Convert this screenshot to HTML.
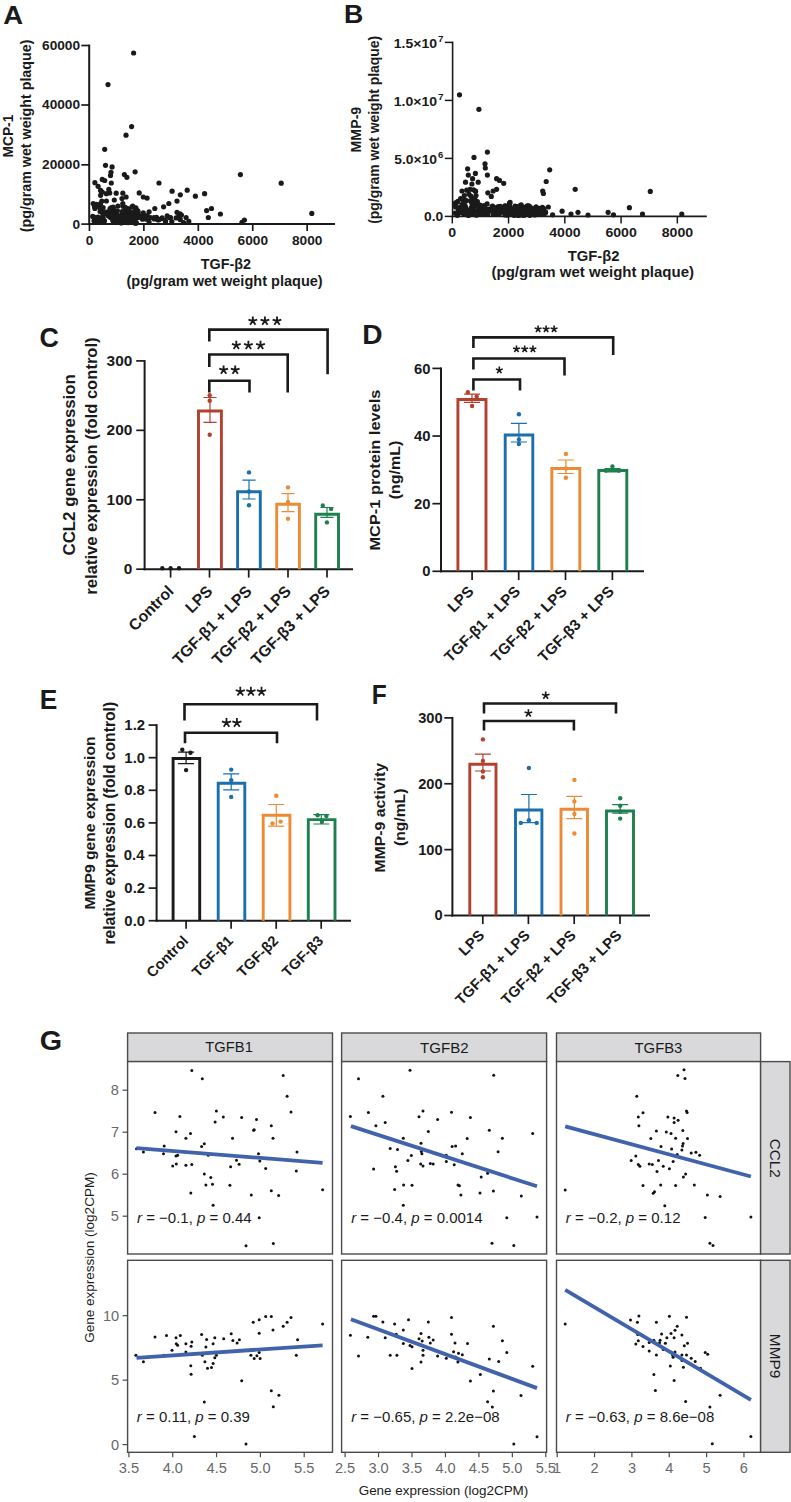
<!DOCTYPE html>
<html><head><meta charset="utf-8"><style>
html,body{margin:0;padding:0;background:#ffffff;}
svg{display:block;font-family:"Liberation Sans", sans-serif;}
</style></head><body>
<svg width="791" height="1502" viewBox="0 0 791 1502">
<rect width="791" height="1502" fill="#ffffff"/>
<text x="3.36" y="23.79" font-size="26" font-weight="bold" fill="#1a1a1a" textLength="19.83" lengthAdjust="spacingAndGlyphs">A</text>
<line x1="89.2" y1="44.6" x2="89.2" y2="225.1" stroke="#1a1a1a" stroke-width="2" stroke-linecap="butt"/>
<line x1="88.2" y1="224.1" x2="335" y2="224.1" stroke="#1a1a1a" stroke-width="2" stroke-linecap="butt"/>
<line x1="81.3" y1="45.5" x2="89.2" y2="45.5" stroke="#1a1a1a" stroke-width="1.7" stroke-linecap="butt"/>
<text x="42.02" y="49.92" font-size="12.8" font-weight="bold" fill="#1a1a1a" textLength="38.09" lengthAdjust="spacingAndGlyphs">60000</text>
<line x1="81.3" y1="105" x2="89.2" y2="105" stroke="#1a1a1a" stroke-width="1.7" stroke-linecap="butt"/>
<text x="42.02" y="109.42" font-size="12.8" font-weight="bold" fill="#1a1a1a" textLength="38.09" lengthAdjust="spacingAndGlyphs">40000</text>
<line x1="81.3" y1="164.85" x2="89.2" y2="164.85" stroke="#1a1a1a" stroke-width="1.7" stroke-linecap="butt"/>
<text x="42.02" y="169.27" font-size="12.8" font-weight="bold" fill="#1a1a1a" textLength="38.09" lengthAdjust="spacingAndGlyphs">20000</text>
<line x1="81.3" y1="224.1" x2="89.2" y2="224.1" stroke="#1a1a1a" stroke-width="1.7" stroke-linecap="butt"/>
<text x="72.50" y="228.52" font-size="12.8" font-weight="bold" fill="#1a1a1a" textLength="7.62" lengthAdjust="spacingAndGlyphs">0</text>
<line x1="89.45" y1="224.1" x2="89.45" y2="231" stroke="#1a1a1a" stroke-width="1.7" stroke-linecap="butt"/>
<text x="85.65" y="245.01" font-size="12.8" font-weight="bold" fill="#1a1a1a" textLength="7.62" lengthAdjust="spacingAndGlyphs">0</text>
<line x1="143.88" y1="224.1" x2="143.88" y2="231" stroke="#1a1a1a" stroke-width="1.7" stroke-linecap="butt"/>
<text x="128.68" y="245.01" font-size="12.8" font-weight="bold" fill="#1a1a1a" textLength="30.47" lengthAdjust="spacingAndGlyphs">2000</text>
<line x1="198.31" y1="224.1" x2="198.31" y2="231" stroke="#1a1a1a" stroke-width="1.7" stroke-linecap="butt"/>
<text x="183.24" y="245.01" font-size="12.8" font-weight="bold" fill="#1a1a1a" textLength="30.47" lengthAdjust="spacingAndGlyphs">4000</text>
<line x1="252.74" y1="224.1" x2="252.74" y2="231" stroke="#1a1a1a" stroke-width="1.7" stroke-linecap="butt"/>
<text x="237.54" y="245.01" font-size="12.8" font-weight="bold" fill="#1a1a1a" textLength="30.47" lengthAdjust="spacingAndGlyphs">6000</text>
<line x1="307.17" y1="224.1" x2="307.17" y2="231" stroke="#1a1a1a" stroke-width="1.7" stroke-linecap="butt"/>
<text x="292.00" y="245.01" font-size="12.8" font-weight="bold" fill="#1a1a1a" textLength="30.47" lengthAdjust="spacingAndGlyphs">8000</text>
<text x="200.71" y="268.50" font-size="14.5" font-weight="bold" fill="#1a1a1a" textLength="50.31" lengthAdjust="spacingAndGlyphs">TGF-β2</text>
<text x="126.52" y="285.90" font-size="14.5" font-weight="bold" fill="#1a1a1a" textLength="196.19" lengthAdjust="spacingAndGlyphs">(pg/gram wet weight plaque)</text>
<text x="12.90" y="157.55" font-size="14.8" font-weight="bold" fill="#1a1a1a" transform="rotate(-90 12.90 157.55)" textLength="42.96" lengthAdjust="spacingAndGlyphs">MCP-1</text>
<text x="30.80" y="232.16" font-size="14.5" font-weight="bold" fill="#1a1a1a" transform="rotate(-90 30.80 232.16)" textLength="192.57" lengthAdjust="spacingAndGlyphs">(pg/gram wet weight plaque)</text>
<circle cx="133.6" cy="53.0" r="2.6" fill="#1a1a1a"/>
<circle cx="108.0" cy="84.6" r="2.6" fill="#1a1a1a"/>
<circle cx="131.6" cy="126.6" r="2.6" fill="#1a1a1a"/>
<circle cx="126.0" cy="135.2" r="2.6" fill="#1a1a1a"/>
<circle cx="104.7" cy="149.3" r="2.6" fill="#1a1a1a"/>
<circle cx="105.5" cy="165.3" r="2.6" fill="#1a1a1a"/>
<circle cx="112.1" cy="166.9" r="2.6" fill="#1a1a1a"/>
<circle cx="111.0" cy="172.3" r="2.6" fill="#1a1a1a"/>
<circle cx="110.5" cy="175.6" r="2.6" fill="#1a1a1a"/>
<circle cx="124.4" cy="174.5" r="2.6" fill="#1a1a1a"/>
<circle cx="126.9" cy="177.3" r="2.6" fill="#1a1a1a"/>
<circle cx="135.1" cy="171.8" r="2.6" fill="#1a1a1a"/>
<circle cx="94.9" cy="182.7" r="2.6" fill="#1a1a1a"/>
<circle cx="102.3" cy="179.4" r="2.6" fill="#1a1a1a"/>
<circle cx="104.7" cy="180.5" r="2.6" fill="#1a1a1a"/>
<circle cx="111.3" cy="183.0" r="2.6" fill="#1a1a1a"/>
<circle cx="159.0" cy="183.0" r="2.6" fill="#1a1a1a"/>
<circle cx="98.1" cy="186.3" r="2.6" fill="#1a1a1a"/>
<circle cx="100.6" cy="190.4" r="2.6" fill="#1a1a1a"/>
<circle cx="102.3" cy="192.0" r="2.6" fill="#1a1a1a"/>
<circle cx="108.8" cy="189.3" r="2.6" fill="#1a1a1a"/>
<circle cx="109.7" cy="192.9" r="2.6" fill="#1a1a1a"/>
<circle cx="106.4" cy="193.7" r="2.6" fill="#1a1a1a"/>
<circle cx="116.2" cy="193.2" r="2.6" fill="#1a1a1a"/>
<circle cx="122.8" cy="193.2" r="2.6" fill="#1a1a1a"/>
<circle cx="100.6" cy="195.3" r="2.6" fill="#1a1a1a"/>
<circle cx="126.1" cy="197.0" r="2.6" fill="#1a1a1a"/>
<circle cx="122.0" cy="198.6" r="2.6" fill="#1a1a1a"/>
<circle cx="139.2" cy="192.9" r="2.6" fill="#1a1a1a"/>
<circle cx="143.3" cy="197.0" r="2.6" fill="#1a1a1a"/>
<circle cx="147.1" cy="198.1" r="2.6" fill="#1a1a1a"/>
<circle cx="172.1" cy="191.2" r="2.6" fill="#1a1a1a"/>
<circle cx="180.3" cy="194.8" r="2.6" fill="#1a1a1a"/>
<circle cx="187.2" cy="190.2" r="2.6" fill="#1a1a1a"/>
<circle cx="195.4" cy="196.2" r="2.6" fill="#1a1a1a"/>
<circle cx="204.6" cy="193.7" r="2.6" fill="#1a1a1a"/>
<circle cx="114.3" cy="200.0" r="2.6" fill="#1a1a1a"/>
<circle cx="106.4" cy="201.0" r="2.6" fill="#1a1a1a"/>
<circle cx="93.2" cy="203.5" r="2.6" fill="#1a1a1a"/>
<circle cx="100.6" cy="203.5" r="2.6" fill="#1a1a1a"/>
<circle cx="94.9" cy="208.5" r="2.6" fill="#1a1a1a"/>
<circle cx="177.0" cy="201.1" r="2.6" fill="#1a1a1a"/>
<circle cx="168.8" cy="203.5" r="2.6" fill="#1a1a1a"/>
<circle cx="163.6" cy="206.8" r="2.6" fill="#1a1a1a"/>
<circle cx="154.8" cy="208.5" r="2.6" fill="#1a1a1a"/>
<circle cx="149.1" cy="211.8" r="2.6" fill="#1a1a1a"/>
<circle cx="143.3" cy="212.9" r="2.6" fill="#1a1a1a"/>
<circle cx="132.7" cy="206.0" r="2.6" fill="#1a1a1a"/>
<circle cx="122.8" cy="203.5" r="2.6" fill="#1a1a1a"/>
<circle cx="117.9" cy="206.0" r="2.6" fill="#1a1a1a"/>
<circle cx="111.3" cy="207.7" r="2.6" fill="#1a1a1a"/>
<circle cx="103.1" cy="207.7" r="2.6" fill="#1a1a1a"/>
<circle cx="102.3" cy="211.8" r="2.6" fill="#1a1a1a"/>
<circle cx="206.6" cy="210.6" r="2.6" fill="#1a1a1a"/>
<circle cx="211.5" cy="208.5" r="2.6" fill="#1a1a1a"/>
<circle cx="208.3" cy="217.5" r="2.6" fill="#1a1a1a"/>
<circle cx="177.0" cy="212.3" r="2.6" fill="#1a1a1a"/>
<circle cx="180.0" cy="213.9" r="2.6" fill="#1a1a1a"/>
<circle cx="186.1" cy="217.5" r="2.6" fill="#1a1a1a"/>
<circle cx="167.2" cy="215.9" r="2.6" fill="#1a1a1a"/>
<circle cx="170.5" cy="217.5" r="2.6" fill="#1a1a1a"/>
<circle cx="154.0" cy="217.5" r="2.6" fill="#1a1a1a"/>
<circle cx="157.3" cy="219.2" r="2.6" fill="#1a1a1a"/>
<circle cx="142.5" cy="219.2" r="2.6" fill="#1a1a1a"/>
<circle cx="149.1" cy="222.1" r="2.6" fill="#1a1a1a"/>
<circle cx="183.6" cy="222.5" r="2.6" fill="#1a1a1a"/>
<circle cx="165.5" cy="221.6" r="2.6" fill="#1a1a1a"/>
<circle cx="96.5" cy="219.2" r="2.6" fill="#1a1a1a"/>
<circle cx="94.0" cy="220.8" r="2.6" fill="#1a1a1a"/>
<circle cx="240.4" cy="174.6" r="2.6" fill="#1a1a1a"/>
<circle cx="281.2" cy="183.2" r="2.6" fill="#1a1a1a"/>
<circle cx="311.8" cy="213.4" r="2.6" fill="#1a1a1a"/>
<circle cx="220.4" cy="214.0" r="2.6" fill="#1a1a1a"/>
<circle cx="244.4" cy="220.0" r="2.6" fill="#1a1a1a"/>
<circle cx="242.0" cy="222.3" r="2.6" fill="#1a1a1a"/>
<circle cx="110.5" cy="217.5" r="2.6" fill="#1a1a1a"/>
<circle cx="115.8" cy="218.3" r="2.6" fill="#1a1a1a"/>
<circle cx="126.0" cy="208.5" r="2.6" fill="#1a1a1a"/>
<circle cx="101.5" cy="221.2" r="2.6" fill="#1a1a1a"/>
<circle cx="111.4" cy="212.5" r="2.6" fill="#1a1a1a"/>
<circle cx="140.8" cy="216.4" r="2.6" fill="#1a1a1a"/>
<circle cx="134.5" cy="216.5" r="2.6" fill="#1a1a1a"/>
<circle cx="126.6" cy="210.8" r="2.6" fill="#1a1a1a"/>
<circle cx="126.4" cy="221.5" r="2.6" fill="#1a1a1a"/>
<circle cx="121.9" cy="220.0" r="2.6" fill="#1a1a1a"/>
<circle cx="127.9" cy="208.5" r="2.6" fill="#1a1a1a"/>
<circle cx="131.3" cy="218.1" r="2.6" fill="#1a1a1a"/>
<circle cx="113.1" cy="207.2" r="2.6" fill="#1a1a1a"/>
<circle cx="135.6" cy="216.5" r="2.6" fill="#1a1a1a"/>
<circle cx="129.8" cy="221.7" r="2.6" fill="#1a1a1a"/>
<circle cx="129.6" cy="222.1" r="2.6" fill="#1a1a1a"/>
<circle cx="116.8" cy="220.8" r="2.6" fill="#1a1a1a"/>
<circle cx="118.8" cy="222.3" r="2.6" fill="#1a1a1a"/>
<circle cx="136.2" cy="209.5" r="2.6" fill="#1a1a1a"/>
<circle cx="106.4" cy="212.2" r="2.6" fill="#1a1a1a"/>
<circle cx="139.6" cy="215.9" r="2.6" fill="#1a1a1a"/>
<circle cx="126.1" cy="213.8" r="2.6" fill="#1a1a1a"/>
<circle cx="121.3" cy="215.2" r="2.6" fill="#1a1a1a"/>
<circle cx="115.0" cy="218.0" r="2.6" fill="#1a1a1a"/>
<circle cx="124.4" cy="221.9" r="2.6" fill="#1a1a1a"/>
<circle cx="128.3" cy="222.2" r="2.6" fill="#1a1a1a"/>
<circle cx="135.3" cy="222.9" r="2.6" fill="#1a1a1a"/>
<circle cx="127.9" cy="211.1" r="2.6" fill="#1a1a1a"/>
<circle cx="135.4" cy="222.6" r="2.6" fill="#1a1a1a"/>
<circle cx="137.2" cy="217.8" r="2.6" fill="#1a1a1a"/>
<circle cx="129.6" cy="212.1" r="2.6" fill="#1a1a1a"/>
<circle cx="134.3" cy="217.9" r="2.6" fill="#1a1a1a"/>
<circle cx="112.4" cy="208.4" r="2.6" fill="#1a1a1a"/>
<circle cx="135.2" cy="222.9" r="2.6" fill="#1a1a1a"/>
<circle cx="104.5" cy="220.8" r="2.6" fill="#1a1a1a"/>
<circle cx="117.4" cy="210.8" r="2.6" fill="#1a1a1a"/>
<circle cx="112.8" cy="220.4" r="2.6" fill="#1a1a1a"/>
<circle cx="135.9" cy="207.8" r="2.6" fill="#1a1a1a"/>
<circle cx="125.6" cy="207.8" r="2.6" fill="#1a1a1a"/>
<circle cx="129.7" cy="214.3" r="2.6" fill="#1a1a1a"/>
<circle cx="136.2" cy="222.8" r="2.6" fill="#1a1a1a"/>
<circle cx="121.2" cy="223.0" r="2.6" fill="#1a1a1a"/>
<circle cx="113.4" cy="208.9" r="2.6" fill="#1a1a1a"/>
<circle cx="125.0" cy="207.3" r="2.6" fill="#1a1a1a"/>
<circle cx="108.9" cy="215.5" r="2.6" fill="#1a1a1a"/>
<circle cx="125.4" cy="210.9" r="2.6" fill="#1a1a1a"/>
<circle cx="102.7" cy="221.5" r="2.6" fill="#1a1a1a"/>
<circle cx="113.6" cy="222.5" r="2.6" fill="#1a1a1a"/>
<circle cx="136.9" cy="215.0" r="2.6" fill="#1a1a1a"/>
<circle cx="119.4" cy="217.2" r="2.6" fill="#1a1a1a"/>
<circle cx="126.8" cy="218.2" r="2.6" fill="#1a1a1a"/>
<circle cx="123.4" cy="218.5" r="2.6" fill="#1a1a1a"/>
<circle cx="138.6" cy="217.0" r="2.6" fill="#1a1a1a"/>
<circle cx="118.2" cy="219.8" r="2.6" fill="#1a1a1a"/>
<circle cx="110.5" cy="213.8" r="2.6" fill="#1a1a1a"/>
<circle cx="140.1" cy="217.2" r="2.6" fill="#1a1a1a"/>
<circle cx="122.9" cy="206.2" r="2.6" fill="#1a1a1a"/>
<circle cx="117.6" cy="218.0" r="2.6" fill="#1a1a1a"/>
<circle cx="101.8" cy="218.5" r="2.6" fill="#1a1a1a"/>
<circle cx="126.3" cy="208.3" r="2.6" fill="#1a1a1a"/>
<circle cx="126.1" cy="216.4" r="2.6" fill="#1a1a1a"/>
<circle cx="128.2" cy="214.6" r="2.6" fill="#1a1a1a"/>
<circle cx="129.3" cy="220.0" r="2.6" fill="#1a1a1a"/>
<circle cx="101.9" cy="208.3" r="2.6" fill="#1a1a1a"/>
<circle cx="128.0" cy="222.6" r="2.6" fill="#1a1a1a"/>
<circle cx="111.0" cy="216.2" r="2.6" fill="#1a1a1a"/>
<circle cx="124.7" cy="214.1" r="2.6" fill="#1a1a1a"/>
<circle cx="115.6" cy="214.0" r="2.6" fill="#1a1a1a"/>
<circle cx="115.8" cy="218.2" r="2.6" fill="#1a1a1a"/>
<circle cx="113.0" cy="215.0" r="2.6" fill="#1a1a1a"/>
<circle cx="131.9" cy="207.1" r="2.6" fill="#1a1a1a"/>
<circle cx="123.8" cy="220.0" r="2.6" fill="#1a1a1a"/>
<circle cx="113.4" cy="212.3" r="2.6" fill="#1a1a1a"/>
<circle cx="133.2" cy="212.6" r="2.6" fill="#1a1a1a"/>
<circle cx="108.5" cy="215.9" r="2.6" fill="#1a1a1a"/>
<circle cx="128.9" cy="209.6" r="2.6" fill="#1a1a1a"/>
<circle cx="113.9" cy="214.3" r="2.6" fill="#1a1a1a"/>
<circle cx="134.3" cy="216.0" r="2.6" fill="#1a1a1a"/>
<circle cx="135.2" cy="211.2" r="2.6" fill="#1a1a1a"/>
<circle cx="114.5" cy="218.9" r="2.6" fill="#1a1a1a"/>
<circle cx="136.4" cy="216.2" r="2.6" fill="#1a1a1a"/>
<circle cx="110.0" cy="210.1" r="2.6" fill="#1a1a1a"/>
<circle cx="122.2" cy="211.7" r="2.6" fill="#1a1a1a"/>
<circle cx="133.3" cy="221.2" r="2.6" fill="#1a1a1a"/>
<circle cx="108.3" cy="213.4" r="2.6" fill="#1a1a1a"/>
<circle cx="133.3" cy="218.8" r="2.6" fill="#1a1a1a"/>
<circle cx="133.3" cy="214.5" r="2.6" fill="#1a1a1a"/>
<circle cx="106.2" cy="213.6" r="2.6" fill="#1a1a1a"/>
<circle cx="132.8" cy="213.2" r="2.6" fill="#1a1a1a"/>
<circle cx="114.9" cy="215.6" r="2.6" fill="#1a1a1a"/>
<circle cx="117.8" cy="215.5" r="2.6" fill="#1a1a1a"/>
<circle cx="137.8" cy="210.9" r="2.6" fill="#1a1a1a"/>
<circle cx="101.2" cy="222.4" r="2.6" fill="#1a1a1a"/>
<circle cx="136.2" cy="222.9" r="2.6" fill="#1a1a1a"/>
<circle cx="118.4" cy="222.5" r="2.6" fill="#1a1a1a"/>
<circle cx="138.1" cy="212.3" r="2.6" fill="#1a1a1a"/>
<circle cx="130.8" cy="221.2" r="2.6" fill="#1a1a1a"/>
<circle cx="127.5" cy="217.1" r="2.6" fill="#1a1a1a"/>
<circle cx="112.6" cy="214.4" r="2.6" fill="#1a1a1a"/>
<circle cx="110.1" cy="208.6" r="2.6" fill="#1a1a1a"/>
<circle cx="99.3" cy="206.3" r="2.6" fill="#1a1a1a"/>
<circle cx="101.8" cy="201.0" r="2.6" fill="#1a1a1a"/>
<circle cx="102.9" cy="215.3" r="2.6" fill="#1a1a1a"/>
<circle cx="103.1" cy="219.7" r="2.6" fill="#1a1a1a"/>
<circle cx="102.8" cy="212.7" r="2.6" fill="#1a1a1a"/>
<circle cx="92.7" cy="216.4" r="2.6" fill="#1a1a1a"/>
<circle cx="94.5" cy="206.6" r="2.6" fill="#1a1a1a"/>
<circle cx="100.1" cy="211.5" r="2.6" fill="#1a1a1a"/>
<circle cx="97.3" cy="220.7" r="2.6" fill="#1a1a1a"/>
<circle cx="99.5" cy="207.5" r="2.6" fill="#1a1a1a"/>
<circle cx="95.4" cy="219.0" r="2.6" fill="#1a1a1a"/>
<circle cx="98.0" cy="217.2" r="2.6" fill="#1a1a1a"/>
<circle cx="96.5" cy="204.3" r="2.6" fill="#1a1a1a"/>
<circle cx="98.6" cy="218.0" r="2.6" fill="#1a1a1a"/>
<circle cx="94.5" cy="217.4" r="2.6" fill="#1a1a1a"/>
<circle cx="103.1" cy="217.7" r="2.6" fill="#1a1a1a"/>
<circle cx="181.4" cy="215.1" r="2.6" fill="#1a1a1a"/>
<circle cx="171.8" cy="221.5" r="2.6" fill="#1a1a1a"/>
<circle cx="143.4" cy="217.0" r="2.6" fill="#1a1a1a"/>
<circle cx="154.2" cy="219.0" r="2.6" fill="#1a1a1a"/>
<circle cx="161.7" cy="218.5" r="2.6" fill="#1a1a1a"/>
<circle cx="179.0" cy="215.0" r="2.6" fill="#1a1a1a"/>
<circle cx="143.7" cy="216.0" r="2.6" fill="#1a1a1a"/>
<circle cx="147.1" cy="215.5" r="2.6" fill="#1a1a1a"/>
<circle cx="188.8" cy="221.4" r="2.6" fill="#1a1a1a"/>
<circle cx="145.2" cy="218.8" r="2.6" fill="#1a1a1a"/>
<circle cx="156.5" cy="217.4" r="2.6" fill="#1a1a1a"/>
<circle cx="158.2" cy="219.9" r="2.6" fill="#1a1a1a"/>
<circle cx="169.7" cy="217.7" r="2.6" fill="#1a1a1a"/>
<circle cx="150.4" cy="217.5" r="2.6" fill="#1a1a1a"/>
<circle cx="147.1" cy="219.2" r="2.6" fill="#1a1a1a"/>
<circle cx="176.1" cy="217.9" r="2.6" fill="#1a1a1a"/>
<circle cx="144.9" cy="216.3" r="2.6" fill="#1a1a1a"/>
<circle cx="159.3" cy="219.5" r="2.6" fill="#1a1a1a"/>
<circle cx="179.3" cy="217.9" r="2.6" fill="#1a1a1a"/>
<circle cx="180.3" cy="219.7" r="2.6" fill="#1a1a1a"/>
<circle cx="162.1" cy="217.8" r="2.6" fill="#1a1a1a"/>
<circle cx="165.3" cy="220.3" r="2.6" fill="#1a1a1a"/>
<text x="344.11" y="22.99" font-size="26" font-weight="bold" fill="#1a1a1a" textLength="19.30" lengthAdjust="spacingAndGlyphs">B</text>
<line x1="452.6" y1="41.6" x2="452.6" y2="217.20000000000002" stroke="#1a1a1a" stroke-width="1.6" stroke-linecap="butt"/>
<line x1="451.8" y1="216.4" x2="706.8" y2="216.4" stroke="#1a1a1a" stroke-width="1.6" stroke-linecap="butt"/>
<line x1="444.8" y1="42.4" x2="452.6" y2="42.4" stroke="#1a1a1a" stroke-width="1.5" stroke-linecap="butt"/>
<text x="393.84" y="47.70" font-size="13.0" font-weight="bold" fill="#1a1a1a" textLength="43.19" lengthAdjust="spacingAndGlyphs">1.5×10</text>
<text x="438.00" y="42.38" font-size="8.6" font-weight="bold" fill="#1a1a1a" textLength="5.50" lengthAdjust="spacingAndGlyphs">7</text>
<line x1="444.8" y1="100.4" x2="452.6" y2="100.4" stroke="#1a1a1a" stroke-width="1.5" stroke-linecap="butt"/>
<text x="393.84" y="105.70" font-size="13.0" font-weight="bold" fill="#1a1a1a" textLength="43.19" lengthAdjust="spacingAndGlyphs">1.0×10</text>
<text x="438.00" y="100.38" font-size="8.6" font-weight="bold" fill="#1a1a1a" textLength="5.50" lengthAdjust="spacingAndGlyphs">7</text>
<line x1="444.8" y1="158.4" x2="452.6" y2="158.4" stroke="#1a1a1a" stroke-width="1.5" stroke-linecap="butt"/>
<text x="394.34" y="163.70" font-size="13.0" font-weight="bold" fill="#1a1a1a" textLength="42.69" lengthAdjust="spacingAndGlyphs">5.0×10</text>
<text x="438.12" y="158.27" font-size="8.6" font-weight="bold" fill="#1a1a1a" textLength="5.28" lengthAdjust="spacingAndGlyphs">6</text>
<line x1="444.8" y1="216.4" x2="452.6" y2="216.4" stroke="#1a1a1a" stroke-width="1.5" stroke-linecap="butt"/>
<text x="424.00" y="220.90" font-size="12.9" font-weight="bold" fill="#1a1a1a" textLength="19.21" lengthAdjust="spacingAndGlyphs">0.0</text>
<line x1="452.3" y1="216.4" x2="452.3" y2="223.5" stroke="#1a1a1a" stroke-width="1.5" stroke-linecap="butt"/>
<text x="448.38" y="236.50" font-size="12.5" font-weight="bold" fill="#1a1a1a" textLength="7.86" lengthAdjust="spacingAndGlyphs">0</text>
<line x1="508.56" y1="216.4" x2="508.56" y2="223.5" stroke="#1a1a1a" stroke-width="1.5" stroke-linecap="butt"/>
<text x="492.88" y="236.50" font-size="12.5" font-weight="bold" fill="#1a1a1a" textLength="31.42" lengthAdjust="spacingAndGlyphs">2000</text>
<line x1="564.82" y1="216.4" x2="564.82" y2="223.5" stroke="#1a1a1a" stroke-width="1.5" stroke-linecap="butt"/>
<text x="549.28" y="236.50" font-size="12.5" font-weight="bold" fill="#1a1a1a" textLength="31.42" lengthAdjust="spacingAndGlyphs">4000</text>
<line x1="621.08" y1="216.4" x2="621.08" y2="223.5" stroke="#1a1a1a" stroke-width="1.5" stroke-linecap="butt"/>
<text x="605.40" y="236.50" font-size="12.5" font-weight="bold" fill="#1a1a1a" textLength="31.42" lengthAdjust="spacingAndGlyphs">6000</text>
<line x1="677.34" y1="216.4" x2="677.34" y2="223.5" stroke="#1a1a1a" stroke-width="1.5" stroke-linecap="butt"/>
<text x="661.70" y="236.50" font-size="12.5" font-weight="bold" fill="#1a1a1a" textLength="31.42" lengthAdjust="spacingAndGlyphs">8000</text>
<text x="567.70" y="260.80" font-size="14.4" font-weight="bold" fill="#1a1a1a" textLength="51.73" lengthAdjust="spacingAndGlyphs">TGF-β2</text>
<text x="491.50" y="276.50" font-size="14.0" font-weight="bold" fill="#1a1a1a" textLength="202.54" lengthAdjust="spacingAndGlyphs">(pg/gram wet weight plaque)</text>
<text x="360.80" y="152.47" font-size="14.5" font-weight="bold" fill="#1a1a1a" transform="rotate(-90 360.80 152.47)" textLength="45.75" lengthAdjust="spacingAndGlyphs">MMP-9</text>
<text x="379.20" y="223.85" font-size="14.5" font-weight="bold" fill="#1a1a1a" transform="rotate(-90 379.20 223.85)" textLength="188.03" lengthAdjust="spacingAndGlyphs">(pg/gram wet weight plaque)</text>
<circle cx="459.5" cy="94.8" r="2.6" fill="#1a1a1a"/>
<circle cx="478.9" cy="109.3" r="2.6" fill="#1a1a1a"/>
<circle cx="474.0" cy="157.4" r="2.6" fill="#1a1a1a"/>
<circle cx="487.4" cy="152.1" r="2.6" fill="#1a1a1a"/>
<circle cx="485.0" cy="163.8" r="2.6" fill="#1a1a1a"/>
<circle cx="485.3" cy="168.0" r="2.6" fill="#1a1a1a"/>
<circle cx="467.6" cy="168.8" r="2.6" fill="#1a1a1a"/>
<circle cx="468.3" cy="175.1" r="2.6" fill="#1a1a1a"/>
<circle cx="475.4" cy="173.4" r="2.6" fill="#1a1a1a"/>
<circle cx="487.4" cy="175.1" r="2.6" fill="#1a1a1a"/>
<circle cx="496.6" cy="178.7" r="2.6" fill="#1a1a1a"/>
<circle cx="499.5" cy="180.4" r="2.6" fill="#1a1a1a"/>
<circle cx="503.7" cy="183.3" r="2.6" fill="#1a1a1a"/>
<circle cx="472.6" cy="178.7" r="2.6" fill="#1a1a1a"/>
<circle cx="465.5" cy="182.2" r="2.6" fill="#1a1a1a"/>
<circle cx="471.9" cy="184.0" r="2.6" fill="#1a1a1a"/>
<circle cx="478.2" cy="182.2" r="2.6" fill="#1a1a1a"/>
<circle cx="462.0" cy="191.0" r="2.6" fill="#1a1a1a"/>
<circle cx="470.0" cy="189.3" r="2.6" fill="#1a1a1a"/>
<circle cx="475.4" cy="191.0" r="2.6" fill="#1a1a1a"/>
<circle cx="487.8" cy="192.8" r="2.6" fill="#1a1a1a"/>
<circle cx="493.1" cy="191.0" r="2.6" fill="#1a1a1a"/>
<circle cx="496.6" cy="189.3" r="2.6" fill="#1a1a1a"/>
<circle cx="491.3" cy="196.4" r="2.6" fill="#1a1a1a"/>
<circle cx="546.2" cy="181.5" r="2.6" fill="#1a1a1a"/>
<circle cx="542.7" cy="191.0" r="2.6" fill="#1a1a1a"/>
<circle cx="543.4" cy="193.5" r="2.6" fill="#1a1a1a"/>
<circle cx="549.7" cy="169.8" r="2.6" fill="#1a1a1a"/>
<circle cx="575.2" cy="189.3" r="2.6" fill="#1a1a1a"/>
<circle cx="650.3" cy="191.4" r="2.6" fill="#1a1a1a"/>
<circle cx="548.3" cy="207.0" r="2.6" fill="#1a1a1a"/>
<circle cx="528.5" cy="206.0" r="2.6" fill="#1a1a1a"/>
<circle cx="515.0" cy="206.0" r="2.6" fill="#1a1a1a"/>
<circle cx="519.6" cy="207.0" r="2.6" fill="#1a1a1a"/>
<circle cx="562.1" cy="211.2" r="2.6" fill="#1a1a1a"/>
<circle cx="571.0" cy="214.0" r="2.6" fill="#1a1a1a"/>
<circle cx="578.0" cy="212.3" r="2.6" fill="#1a1a1a"/>
<circle cx="608.1" cy="212.3" r="2.6" fill="#1a1a1a"/>
<circle cx="613.5" cy="214.8" r="2.6" fill="#1a1a1a"/>
<circle cx="629.4" cy="207.7" r="2.6" fill="#1a1a1a"/>
<circle cx="642.5" cy="214.0" r="2.6" fill="#1a1a1a"/>
<circle cx="681.8" cy="214.0" r="2.6" fill="#1a1a1a"/>
<circle cx="588.0" cy="215.0" r="2.6" fill="#1a1a1a"/>
<circle cx="552.6" cy="214.8" r="2.6" fill="#1a1a1a"/>
<circle cx="494.1" cy="212.9" r="2.6" fill="#1a1a1a"/>
<circle cx="497.9" cy="207.7" r="2.6" fill="#1a1a1a"/>
<circle cx="504.8" cy="213.1" r="2.6" fill="#1a1a1a"/>
<circle cx="461.7" cy="208.6" r="2.6" fill="#1a1a1a"/>
<circle cx="494.6" cy="214.5" r="2.6" fill="#1a1a1a"/>
<circle cx="542.1" cy="211.6" r="2.6" fill="#1a1a1a"/>
<circle cx="538.5" cy="214.3" r="2.6" fill="#1a1a1a"/>
<circle cx="479.4" cy="209.9" r="2.6" fill="#1a1a1a"/>
<circle cx="466.5" cy="213.6" r="2.6" fill="#1a1a1a"/>
<circle cx="516.6" cy="214.7" r="2.6" fill="#1a1a1a"/>
<circle cx="528.7" cy="213.4" r="2.6" fill="#1a1a1a"/>
<circle cx="523.2" cy="212.4" r="2.6" fill="#1a1a1a"/>
<circle cx="464.6" cy="211.0" r="2.6" fill="#1a1a1a"/>
<circle cx="455.5" cy="202.8" r="2.6" fill="#1a1a1a"/>
<circle cx="527.0" cy="206.1" r="2.6" fill="#1a1a1a"/>
<circle cx="463.5" cy="202.2" r="2.6" fill="#1a1a1a"/>
<circle cx="536.9" cy="209.3" r="2.6" fill="#1a1a1a"/>
<circle cx="457.2" cy="213.8" r="2.6" fill="#1a1a1a"/>
<circle cx="466.3" cy="213.9" r="2.6" fill="#1a1a1a"/>
<circle cx="517.6" cy="214.4" r="2.6" fill="#1a1a1a"/>
<circle cx="543.6" cy="213.1" r="2.6" fill="#1a1a1a"/>
<circle cx="529.3" cy="206.1" r="2.6" fill="#1a1a1a"/>
<circle cx="526.4" cy="212.1" r="2.6" fill="#1a1a1a"/>
<circle cx="521.5" cy="207.1" r="2.6" fill="#1a1a1a"/>
<circle cx="524.7" cy="215.1" r="2.6" fill="#1a1a1a"/>
<circle cx="460.7" cy="207.0" r="2.6" fill="#1a1a1a"/>
<circle cx="507.4" cy="214.2" r="2.6" fill="#1a1a1a"/>
<circle cx="477.5" cy="205.2" r="2.6" fill="#1a1a1a"/>
<circle cx="478.2" cy="211.7" r="2.6" fill="#1a1a1a"/>
<circle cx="525.1" cy="211.0" r="2.6" fill="#1a1a1a"/>
<circle cx="489.2" cy="209.4" r="2.6" fill="#1a1a1a"/>
<circle cx="487.6" cy="209.6" r="2.6" fill="#1a1a1a"/>
<circle cx="462.7" cy="209.8" r="2.6" fill="#1a1a1a"/>
<circle cx="545.5" cy="212.1" r="2.6" fill="#1a1a1a"/>
<circle cx="524.5" cy="208.2" r="2.6" fill="#1a1a1a"/>
<circle cx="519.2" cy="213.8" r="2.6" fill="#1a1a1a"/>
<circle cx="517.7" cy="211.9" r="2.6" fill="#1a1a1a"/>
<circle cx="500.0" cy="212.5" r="2.6" fill="#1a1a1a"/>
<circle cx="538.5" cy="209.1" r="2.6" fill="#1a1a1a"/>
<circle cx="463.9" cy="212.9" r="2.6" fill="#1a1a1a"/>
<circle cx="540.2" cy="212.6" r="2.6" fill="#1a1a1a"/>
<circle cx="496.2" cy="213.1" r="2.6" fill="#1a1a1a"/>
<circle cx="472.3" cy="206.6" r="2.6" fill="#1a1a1a"/>
<circle cx="473.5" cy="211.2" r="2.6" fill="#1a1a1a"/>
<circle cx="484.3" cy="206.7" r="2.6" fill="#1a1a1a"/>
<circle cx="519.3" cy="215.2" r="2.6" fill="#1a1a1a"/>
<circle cx="482.5" cy="212.7" r="2.6" fill="#1a1a1a"/>
<circle cx="493.4" cy="214.3" r="2.6" fill="#1a1a1a"/>
<circle cx="509.4" cy="208.7" r="2.6" fill="#1a1a1a"/>
<circle cx="475.2" cy="200.2" r="2.6" fill="#1a1a1a"/>
<circle cx="499.6" cy="209.7" r="2.6" fill="#1a1a1a"/>
<circle cx="471.0" cy="208.1" r="2.6" fill="#1a1a1a"/>
<circle cx="484.9" cy="213.5" r="2.6" fill="#1a1a1a"/>
<circle cx="468.4" cy="215.4" r="2.6" fill="#1a1a1a"/>
<circle cx="499.6" cy="212.1" r="2.6" fill="#1a1a1a"/>
<circle cx="498.5" cy="214.2" r="2.6" fill="#1a1a1a"/>
<circle cx="531.4" cy="212.6" r="2.6" fill="#1a1a1a"/>
<circle cx="499.8" cy="213.2" r="2.6" fill="#1a1a1a"/>
<circle cx="534.7" cy="211.5" r="2.6" fill="#1a1a1a"/>
<circle cx="523.2" cy="215.3" r="2.6" fill="#1a1a1a"/>
<circle cx="498.5" cy="207.5" r="2.6" fill="#1a1a1a"/>
<circle cx="476.8" cy="212.8" r="2.6" fill="#1a1a1a"/>
<circle cx="517.8" cy="215.2" r="2.6" fill="#1a1a1a"/>
<circle cx="534.4" cy="209.9" r="2.6" fill="#1a1a1a"/>
<circle cx="472.6" cy="206.5" r="2.6" fill="#1a1a1a"/>
<circle cx="472.4" cy="212.5" r="2.6" fill="#1a1a1a"/>
<circle cx="534.8" cy="214.9" r="2.6" fill="#1a1a1a"/>
<circle cx="478.7" cy="214.3" r="2.6" fill="#1a1a1a"/>
<circle cx="484.1" cy="209.6" r="2.6" fill="#1a1a1a"/>
<circle cx="522.8" cy="206.8" r="2.6" fill="#1a1a1a"/>
<circle cx="463.6" cy="213.8" r="2.6" fill="#1a1a1a"/>
<circle cx="482.1" cy="208.6" r="2.6" fill="#1a1a1a"/>
<circle cx="509.0" cy="213.0" r="2.6" fill="#1a1a1a"/>
<circle cx="455.6" cy="206.9" r="2.6" fill="#1a1a1a"/>
<circle cx="495.6" cy="210.8" r="2.6" fill="#1a1a1a"/>
<circle cx="474.5" cy="211.2" r="2.6" fill="#1a1a1a"/>
<circle cx="543.8" cy="211.8" r="2.6" fill="#1a1a1a"/>
<circle cx="505.6" cy="206.1" r="2.6" fill="#1a1a1a"/>
<circle cx="480.6" cy="212.3" r="2.6" fill="#1a1a1a"/>
<circle cx="465.5" cy="214.4" r="2.6" fill="#1a1a1a"/>
<circle cx="539.5" cy="208.4" r="2.6" fill="#1a1a1a"/>
<circle cx="542.5" cy="211.6" r="2.6" fill="#1a1a1a"/>
<circle cx="526.8" cy="214.0" r="2.6" fill="#1a1a1a"/>
<circle cx="482.5" cy="212.4" r="2.6" fill="#1a1a1a"/>
<circle cx="515.8" cy="214.2" r="2.6" fill="#1a1a1a"/>
<circle cx="479.7" cy="213.2" r="2.6" fill="#1a1a1a"/>
<circle cx="544.4" cy="213.7" r="2.6" fill="#1a1a1a"/>
<circle cx="504.9" cy="205.9" r="2.6" fill="#1a1a1a"/>
<circle cx="500.9" cy="209.4" r="2.6" fill="#1a1a1a"/>
<circle cx="521.8" cy="213.3" r="2.6" fill="#1a1a1a"/>
<circle cx="507.7" cy="207.4" r="2.6" fill="#1a1a1a"/>
<circle cx="515.0" cy="212.8" r="2.6" fill="#1a1a1a"/>
<circle cx="471.7" cy="214.5" r="2.6" fill="#1a1a1a"/>
<circle cx="515.9" cy="206.9" r="2.6" fill="#1a1a1a"/>
<circle cx="541.7" cy="209.2" r="2.6" fill="#1a1a1a"/>
<circle cx="485.8" cy="213.0" r="2.6" fill="#1a1a1a"/>
<circle cx="510.6" cy="212.0" r="2.6" fill="#1a1a1a"/>
<circle cx="515.2" cy="211.2" r="2.6" fill="#1a1a1a"/>
<circle cx="484.1" cy="205.6" r="2.6" fill="#1a1a1a"/>
<circle cx="461.4" cy="212.5" r="2.6" fill="#1a1a1a"/>
<circle cx="525.2" cy="212.3" r="2.6" fill="#1a1a1a"/>
<circle cx="523.8" cy="210.6" r="2.6" fill="#1a1a1a"/>
<circle cx="479.7" cy="208.8" r="2.6" fill="#1a1a1a"/>
<circle cx="536.1" cy="206.9" r="2.6" fill="#1a1a1a"/>
<circle cx="501.9" cy="208.0" r="2.6" fill="#1a1a1a"/>
<circle cx="526.5" cy="210.7" r="2.6" fill="#1a1a1a"/>
<circle cx="486.0" cy="209.4" r="2.6" fill="#1a1a1a"/>
<circle cx="505.4" cy="213.7" r="2.6" fill="#1a1a1a"/>
<circle cx="487.8" cy="214.2" r="2.6" fill="#1a1a1a"/>
<circle cx="465.4" cy="206.3" r="2.6" fill="#1a1a1a"/>
<circle cx="464.3" cy="202.6" r="2.6" fill="#1a1a1a"/>
<circle cx="527.4" cy="213.8" r="2.6" fill="#1a1a1a"/>
<circle cx="472.2" cy="205.1" r="2.6" fill="#1a1a1a"/>
<circle cx="493.7" cy="213.3" r="2.6" fill="#1a1a1a"/>
<circle cx="530.9" cy="214.0" r="2.6" fill="#1a1a1a"/>
<circle cx="510.0" cy="206.9" r="2.6" fill="#1a1a1a"/>
<circle cx="492.1" cy="206.5" r="2.6" fill="#1a1a1a"/>
<circle cx="504.1" cy="211.9" r="2.6" fill="#1a1a1a"/>
<circle cx="473.8" cy="206.4" r="2.6" fill="#1a1a1a"/>
<circle cx="527.7" cy="205.8" r="2.6" fill="#1a1a1a"/>
<circle cx="529.7" cy="214.9" r="2.6" fill="#1a1a1a"/>
<circle cx="543.3" cy="211.7" r="2.6" fill="#1a1a1a"/>
<circle cx="506.4" cy="212.1" r="2.6" fill="#1a1a1a"/>
<circle cx="513.9" cy="215.3" r="2.6" fill="#1a1a1a"/>
<circle cx="518.9" cy="209.7" r="2.6" fill="#1a1a1a"/>
<circle cx="535.0" cy="212.2" r="2.6" fill="#1a1a1a"/>
<circle cx="510.9" cy="213.5" r="2.6" fill="#1a1a1a"/>
<circle cx="455.2" cy="213.0" r="2.6" fill="#1a1a1a"/>
<circle cx="516.6" cy="211.6" r="2.6" fill="#1a1a1a"/>
<circle cx="503.7" cy="210.8" r="2.6" fill="#1a1a1a"/>
<circle cx="473.0" cy="210.5" r="2.6" fill="#1a1a1a"/>
<circle cx="458.4" cy="209.6" r="2.6" fill="#1a1a1a"/>
<circle cx="515.1" cy="211.1" r="2.6" fill="#1a1a1a"/>
<circle cx="507.6" cy="215.2" r="2.6" fill="#1a1a1a"/>
<circle cx="538.0" cy="208.8" r="2.6" fill="#1a1a1a"/>
<circle cx="528.7" cy="213.0" r="2.6" fill="#1a1a1a"/>
<circle cx="459.7" cy="207.5" r="2.6" fill="#1a1a1a"/>
<circle cx="476.7" cy="202.6" r="2.6" fill="#1a1a1a"/>
<circle cx="505.1" cy="215.0" r="2.6" fill="#1a1a1a"/>
<circle cx="485.0" cy="214.4" r="2.6" fill="#1a1a1a"/>
<circle cx="519.6" cy="207.4" r="2.6" fill="#1a1a1a"/>
<circle cx="534.8" cy="213.0" r="2.6" fill="#1a1a1a"/>
<circle cx="541.2" cy="213.9" r="2.6" fill="#1a1a1a"/>
<circle cx="523.8" cy="210.4" r="2.6" fill="#1a1a1a"/>
<circle cx="530.0" cy="215.1" r="2.6" fill="#1a1a1a"/>
<circle cx="535.1" cy="211.8" r="2.6" fill="#1a1a1a"/>
<circle cx="525.4" cy="211.8" r="2.6" fill="#1a1a1a"/>
<circle cx="465.1" cy="200.2" r="2.6" fill="#1a1a1a"/>
<circle cx="462.2" cy="204.7" r="2.6" fill="#1a1a1a"/>
<circle cx="470.0" cy="210.0" r="2.6" fill="#1a1a1a"/>
<circle cx="520.0" cy="212.1" r="2.6" fill="#1a1a1a"/>
<circle cx="494.3" cy="212.4" r="2.6" fill="#1a1a1a"/>
<circle cx="483.3" cy="210.1" r="2.6" fill="#1a1a1a"/>
<circle cx="525.4" cy="211.1" r="2.6" fill="#1a1a1a"/>
<circle cx="471.8" cy="214.5" r="2.6" fill="#1a1a1a"/>
<circle cx="521.9" cy="210.6" r="2.6" fill="#1a1a1a"/>
<circle cx="489.5" cy="211.0" r="2.6" fill="#1a1a1a"/>
<circle cx="510.5" cy="208.2" r="2.6" fill="#1a1a1a"/>
<circle cx="455.3" cy="204.4" r="2.6" fill="#1a1a1a"/>
<circle cx="527.8" cy="208.2" r="2.6" fill="#1a1a1a"/>
<circle cx="497.8" cy="206.9" r="2.6" fill="#1a1a1a"/>
<circle cx="474.5" cy="204.8" r="2.6" fill="#1a1a1a"/>
<circle cx="492.5" cy="206.1" r="2.6" fill="#1a1a1a"/>
<circle cx="457.6" cy="202.0" r="2.6" fill="#1a1a1a"/>
<circle cx="470.6" cy="209.9" r="2.6" fill="#1a1a1a"/>
<circle cx="460.6" cy="198.6" r="2.6" fill="#1a1a1a"/>
<circle cx="496.7" cy="209.9" r="2.6" fill="#1a1a1a"/>
<circle cx="520.4" cy="205.7" r="2.6" fill="#1a1a1a"/>
<circle cx="492.5" cy="209.6" r="2.6" fill="#1a1a1a"/>
<circle cx="457.5" cy="215.1" r="2.6" fill="#1a1a1a"/>
<circle cx="475.4" cy="203.0" r="2.6" fill="#1a1a1a"/>
<circle cx="499.1" cy="206.5" r="2.6" fill="#1a1a1a"/>
<circle cx="512.9" cy="209.9" r="2.6" fill="#1a1a1a"/>
<circle cx="466.5" cy="200.7" r="2.6" fill="#1a1a1a"/>
<circle cx="522.7" cy="209.6" r="2.6" fill="#1a1a1a"/>
<circle cx="528.3" cy="211.8" r="2.6" fill="#1a1a1a"/>
<circle cx="541.8" cy="210.9" r="2.6" fill="#1a1a1a"/>
<circle cx="478.2" cy="206.9" r="2.6" fill="#1a1a1a"/>
<circle cx="530.8" cy="213.1" r="2.6" fill="#1a1a1a"/>
<circle cx="487.1" cy="203.9" r="2.6" fill="#1a1a1a"/>
<circle cx="518.5" cy="215.3" r="2.6" fill="#1a1a1a"/>
<circle cx="510.1" cy="202.4" r="2.6" fill="#1a1a1a"/>
<circle cx="457.8" cy="201.4" r="2.6" fill="#1a1a1a"/>
<circle cx="470.8" cy="200.5" r="2.6" fill="#1a1a1a"/>
<circle cx="460.0" cy="211.7" r="2.6" fill="#1a1a1a"/>
<circle cx="538.7" cy="209.7" r="2.6" fill="#1a1a1a"/>
<circle cx="545.6" cy="212.5" r="2.6" fill="#1a1a1a"/>
<circle cx="529.7" cy="215.0" r="2.6" fill="#1a1a1a"/>
<circle cx="542.4" cy="207.3" r="2.6" fill="#1a1a1a"/>
<circle cx="483.3" cy="211.7" r="2.6" fill="#1a1a1a"/>
<circle cx="543.0" cy="208.5" r="2.6" fill="#1a1a1a"/>
<circle cx="482.3" cy="214.2" r="2.6" fill="#1a1a1a"/>
<circle cx="465.7" cy="208.3" r="2.6" fill="#1a1a1a"/>
<circle cx="486.1" cy="212.6" r="2.6" fill="#1a1a1a"/>
<circle cx="541.4" cy="209.6" r="2.6" fill="#1a1a1a"/>
<circle cx="523.8" cy="213.7" r="2.6" fill="#1a1a1a"/>
<circle cx="532.7" cy="212.6" r="2.6" fill="#1a1a1a"/>
<circle cx="540.9" cy="211.4" r="2.6" fill="#1a1a1a"/>
<circle cx="493.6" cy="207.2" r="2.6" fill="#1a1a1a"/>
<circle cx="527.5" cy="211.9" r="2.6" fill="#1a1a1a"/>
<circle cx="480.1" cy="205.2" r="2.6" fill="#1a1a1a"/>
<circle cx="522.0" cy="212.7" r="2.6" fill="#1a1a1a"/>
<circle cx="521.1" cy="210.7" r="2.6" fill="#1a1a1a"/>
<circle cx="500.3" cy="206.3" r="2.6" fill="#1a1a1a"/>
<circle cx="521.1" cy="204.8" r="2.6" fill="#1a1a1a"/>
<circle cx="498.4" cy="213.5" r="2.6" fill="#1a1a1a"/>
<circle cx="518.0" cy="206.6" r="2.6" fill="#1a1a1a"/>
<circle cx="477.1" cy="214.0" r="2.6" fill="#1a1a1a"/>
<circle cx="514.7" cy="214.7" r="2.6" fill="#1a1a1a"/>
<circle cx="536.1" cy="212.0" r="2.6" fill="#1a1a1a"/>
<circle cx="538.4" cy="214.0" r="2.6" fill="#1a1a1a"/>
<circle cx="486.0" cy="208.9" r="2.6" fill="#1a1a1a"/>
<circle cx="461.7" cy="208.3" r="2.6" fill="#1a1a1a"/>
<circle cx="543.9" cy="208.9" r="2.6" fill="#1a1a1a"/>
<circle cx="507.9" cy="206.0" r="2.6" fill="#1a1a1a"/>
<circle cx="462.5" cy="211.7" r="2.6" fill="#1a1a1a"/>
<circle cx="477.4" cy="201.6" r="2.6" fill="#1a1a1a"/>
<circle cx="469.2" cy="211.8" r="2.6" fill="#1a1a1a"/>
<circle cx="509.5" cy="203.0" r="2.6" fill="#1a1a1a"/>
<circle cx="476.4" cy="215.2" r="2.6" fill="#1a1a1a"/>
<circle cx="475.5" cy="211.0" r="2.6" fill="#1a1a1a"/>
<circle cx="494.0" cy="213.7" r="2.6" fill="#1a1a1a"/>
<circle cx="511.2" cy="214.0" r="2.6" fill="#1a1a1a"/>
<circle cx="504.8" cy="207.3" r="2.6" fill="#1a1a1a"/>
<circle cx="471.5" cy="202.2" r="2.6" fill="#1a1a1a"/>
<circle cx="531.8" cy="208.0" r="2.6" fill="#1a1a1a"/>
<circle cx="457.2" cy="215.2" r="2.6" fill="#1a1a1a"/>
<circle cx="473.5" cy="214.5" r="2.6" fill="#1a1a1a"/>
<circle cx="463.0" cy="209.3" r="2.6" fill="#1a1a1a"/>
<circle cx="475.7" cy="213.9" r="2.6" fill="#1a1a1a"/>
<circle cx="470.8" cy="196.1" r="2.6" fill="#1a1a1a"/>
<circle cx="474.3" cy="198.6" r="2.6" fill="#1a1a1a"/>
<circle cx="464.3" cy="195.6" r="2.6" fill="#1a1a1a"/>
<circle cx="466.7" cy="190.2" r="2.6" fill="#1a1a1a"/>
<circle cx="476.0" cy="195.5" r="2.6" fill="#1a1a1a"/>
<circle cx="475.6" cy="191.3" r="2.6" fill="#1a1a1a"/>
<circle cx="468.9" cy="194.1" r="2.6" fill="#1a1a1a"/>
<circle cx="473.5" cy="189.8" r="2.6" fill="#1a1a1a"/>
<text x="39.38" y="347.20" font-size="27.5" font-weight="bold" fill="#1a1a1a" textLength="19.41" lengthAdjust="spacingAndGlyphs">C</text>
<line x1="144.6" y1="360.1" x2="144.6" y2="570.2" stroke="#1a1a1a" stroke-width="2" stroke-linecap="butt"/>
<line x1="143.6" y1="569.2" x2="353" y2="569.2" stroke="#1a1a1a" stroke-width="2" stroke-linecap="butt"/>
<line x1="136.2" y1="360.91" x2="144.6" y2="360.91" stroke="#1a1a1a" stroke-width="1.7" stroke-linecap="butt"/>
<text x="106.62" y="365.74" font-size="14.0" font-weight="bold" fill="#1a1a1a" textLength="25.70" lengthAdjust="spacingAndGlyphs">300</text>
<line x1="136.2" y1="430.34000000000003" x2="144.6" y2="430.34000000000003" stroke="#1a1a1a" stroke-width="1.7" stroke-linecap="butt"/>
<text x="106.62" y="435.17" font-size="14.0" font-weight="bold" fill="#1a1a1a" textLength="25.70" lengthAdjust="spacingAndGlyphs">200</text>
<line x1="136.2" y1="499.77000000000004" x2="144.6" y2="499.77000000000004" stroke="#1a1a1a" stroke-width="1.7" stroke-linecap="butt"/>
<text x="106.62" y="504.60" font-size="14.0" font-weight="bold" fill="#1a1a1a" textLength="25.70" lengthAdjust="spacingAndGlyphs">100</text>
<line x1="136.2" y1="569.2" x2="144.6" y2="569.2" stroke="#1a1a1a" stroke-width="1.7" stroke-linecap="butt"/>
<text x="123.72" y="574.03" font-size="14.0" font-weight="bold" fill="#1a1a1a" textLength="8.57" lengthAdjust="spacingAndGlyphs">0</text>
<line x1="170.6" y1="569.2" x2="170.6" y2="577.6" stroke="#1a1a1a" stroke-width="1.7" stroke-linecap="butt"/>
<line x1="209.5" y1="569.2" x2="209.5" y2="577.6" stroke="#1a1a1a" stroke-width="1.7" stroke-linecap="butt"/>
<line x1="248.7" y1="569.2" x2="248.7" y2="577.6" stroke="#1a1a1a" stroke-width="1.7" stroke-linecap="butt"/>
<line x1="288" y1="569.2" x2="288" y2="577.6" stroke="#1a1a1a" stroke-width="1.7" stroke-linecap="butt"/>
<line x1="327" y1="569.2" x2="327" y2="577.6" stroke="#1a1a1a" stroke-width="1.7" stroke-linecap="butt"/>
<text x="174.6" y="592.2" font-size="15.8" font-weight="bold" text-anchor="end" fill="#1a1a1a" transform="rotate(-45 174.6 592.2)">Control</text>
<text x="213.5" y="592.2" font-size="15.8" font-weight="bold" text-anchor="end" fill="#1a1a1a" transform="rotate(-45 213.5 592.2)">LPS</text>
<text x="252.7" y="592.2" font-size="15.8" font-weight="bold" text-anchor="end" fill="#1a1a1a" transform="rotate(-45 252.7 592.2)">TGF-β1 + LPS</text>
<text x="292.0" y="592.2" font-size="15.8" font-weight="bold" text-anchor="end" fill="#1a1a1a" transform="rotate(-45 292.0 592.2)">TGF-β2 + LPS</text>
<text x="331.0" y="592.2" font-size="15.8" font-weight="bold" text-anchor="end" fill="#1a1a1a" transform="rotate(-45 331.0 592.2)">TGF-β3 + LPS</text>
<text x="75.50" y="555.42" font-size="16.2" font-weight="bold" fill="#1a1a1a" transform="rotate(-90 75.50 555.42)" textLength="181.21" lengthAdjust="spacingAndGlyphs">CCL2 gene expression</text>
<text x="96.70" y="594.63" font-size="16.5" font-weight="bold" fill="#1a1a1a" transform="rotate(-90 96.70 594.63)" textLength="257.29" lengthAdjust="spacingAndGlyphs">relative expression (fold control)</text>
<circle cx="162.3" cy="568.3" r="2.2" fill="#1a1a1a"/>
<circle cx="170.6" cy="568.3" r="2.2" fill="#1a1a1a"/>
<circle cx="179.0" cy="568.3" r="2.2" fill="#1a1a1a"/>
<path d="M198.5,569.2L198.5,411L221.4,411L221.4,569.2" stroke="#b2412f" stroke-width="2.9" fill="none" stroke-linejoin="miter"/>
<path d="M237.6,569.2L237.6,491.7L260.3,491.7L260.3,569.2" stroke="#1b6fad" stroke-width="2.9" fill="none" stroke-linejoin="miter"/>
<path d="M276.7,569.2L276.7,504.2L299.4,504.2L299.4,569.2" stroke="#ec8a35" stroke-width="2.9" fill="none" stroke-linejoin="miter"/>
<path d="M315.7,569.2L315.7,514.3L338.5,514.3L338.5,569.2" stroke="#1f7f4f" stroke-width="2.9" fill="none" stroke-linejoin="miter"/>
<path d="M210,397.5L210,422.3M203.4,397.5L216.6,397.5M203.4,422.3L216.6,422.3" stroke="#b2412f" stroke-width="1.2" fill="none"/>
<path d="M249,480.1L249,499M242.4,480.1L255.6,480.1M242.4,499L255.6,499" stroke="#1b6fad" stroke-width="1.2" fill="none"/>
<path d="M288,493.6L288,511.6M281.4,493.6L294.6,493.6M281.4,511.6L294.6,511.6" stroke="#ec8a35" stroke-width="1.2" fill="none"/>
<path d="M327,507.5L327,517.4M320.4,507.5L333.6,507.5M320.4,517.4L333.6,517.4" stroke="#1f7f4f" stroke-width="1.2" fill="none"/>
<circle cx="209.7" cy="395.3" r="2.2" fill="#b2412f"/>
<circle cx="209.7" cy="400.7" r="2.2" fill="#b2412f"/>
<circle cx="209.7" cy="434.8" r="2.2" fill="#b2412f"/>
<circle cx="249.0" cy="472.4" r="2.2" fill="#1b6fad"/>
<circle cx="249.0" cy="505.2" r="2.2" fill="#1b6fad"/>
<circle cx="249.0" cy="491.5" r="2.2" fill="#1b6fad"/>
<circle cx="288.0" cy="487.4" r="2.2" fill="#ec8a35"/>
<circle cx="288.0" cy="502.0" r="2.2" fill="#ec8a35"/>
<circle cx="288.0" cy="518.7" r="2.2" fill="#ec8a35"/>
<circle cx="322.8" cy="505.4" r="2.2" fill="#1f7f4f"/>
<circle cx="331.1" cy="508.9" r="2.2" fill="#1f7f4f"/>
<circle cx="326.9" cy="522.4" r="2.2" fill="#1f7f4f"/>
<path d="M209.3,392.6L209.3,380.8L249.5,380.8L249.5,392.6" stroke="#1a1a1a" stroke-width="2.6" fill="none" stroke-linejoin="miter"/>
<path d="M209.3,366.9L209.3,354.5L287.7,354.5L287.7,392.6" stroke="#1a1a1a" stroke-width="2.6" fill="none" stroke-linejoin="miter"/>
<path d="M209.3,341.6L209.3,329.6L327.6,329.6L327.6,374.2" stroke="#1a1a1a" stroke-width="2.6" fill="none" stroke-linejoin="miter"/>
<path d="M223.60,370.00L223.60,365.40M223.60,370.00L227.97,368.58M223.60,370.00L219.23,368.58M223.60,370.00L220.90,373.72M223.60,370.00L226.30,373.72" stroke="#1a1a1a" stroke-width="1.85" fill="none" stroke-linecap="butt"/>
<path d="M235.20,370.00L235.20,365.40M235.20,370.00L239.57,368.58M235.20,370.00L230.83,368.58M235.20,370.00L232.50,373.72M235.20,370.00L237.90,373.72" stroke="#1a1a1a" stroke-width="1.85" fill="none" stroke-linecap="butt"/>
<path d="M236.30,345.30L236.30,340.70M236.30,345.30L240.67,343.88M236.30,345.30L231.93,343.88M236.30,345.30L233.60,349.02M236.30,345.30L239.00,349.02" stroke="#1a1a1a" stroke-width="1.85" fill="none" stroke-linecap="butt"/>
<path d="M248.40,345.30L248.40,340.70M248.40,345.30L252.77,343.88M248.40,345.30L244.03,343.88M248.40,345.30L245.70,349.02M248.40,345.30L251.10,349.02" stroke="#1a1a1a" stroke-width="1.85" fill="none" stroke-linecap="butt"/>
<path d="M260.50,345.30L260.50,340.70M260.50,345.30L264.87,343.88M260.50,345.30L256.13,343.88M260.50,345.30L257.80,349.02M260.50,345.30L263.20,349.02" stroke="#1a1a1a" stroke-width="1.85" fill="none" stroke-linecap="butt"/>
<path d="M252.80,321.00L252.80,316.40M252.80,321.00L257.17,319.58M252.80,321.00L248.43,319.58M252.80,321.00L250.10,324.72M252.80,321.00L255.50,324.72" stroke="#1a1a1a" stroke-width="1.85" fill="none" stroke-linecap="butt"/>
<path d="M264.90,321.00L264.90,316.40M264.90,321.00L269.27,319.58M264.90,321.00L260.53,319.58M264.90,321.00L262.20,324.72M264.90,321.00L267.60,324.72" stroke="#1a1a1a" stroke-width="1.85" fill="none" stroke-linecap="butt"/>
<path d="M277.00,321.00L277.00,316.40M277.00,321.00L281.37,319.58M277.00,321.00L272.63,319.58M277.00,321.00L274.30,324.72M277.00,321.00L279.70,324.72" stroke="#1a1a1a" stroke-width="1.85" fill="none" stroke-linecap="butt"/>
<text x="362.32" y="344.33" font-size="27.5" font-weight="bold" fill="#1a1a1a" textLength="20.32" lengthAdjust="spacingAndGlyphs">D</text>
<line x1="441" y1="367.4" x2="441" y2="572.3" stroke="#1a1a1a" stroke-width="2" stroke-linecap="butt"/>
<line x1="440" y1="571.3" x2="644" y2="571.3" stroke="#1a1a1a" stroke-width="2" stroke-linecap="butt"/>
<line x1="432.4" y1="368.40999999999997" x2="441" y2="368.40999999999997" stroke="#1a1a1a" stroke-width="1.7" stroke-linecap="butt"/>
<text x="414.11" y="373.52" font-size="14.8" font-weight="bold" fill="#1a1a1a" textLength="16.46" lengthAdjust="spacingAndGlyphs">60</text>
<line x1="432.4" y1="436.03999999999996" x2="441" y2="436.03999999999996" stroke="#1a1a1a" stroke-width="1.7" stroke-linecap="butt"/>
<text x="414.11" y="441.15" font-size="14.8" font-weight="bold" fill="#1a1a1a" textLength="16.46" lengthAdjust="spacingAndGlyphs">40</text>
<line x1="432.4" y1="503.66999999999996" x2="441" y2="503.66999999999996" stroke="#1a1a1a" stroke-width="1.7" stroke-linecap="butt"/>
<text x="414.11" y="508.78" font-size="14.8" font-weight="bold" fill="#1a1a1a" textLength="16.46" lengthAdjust="spacingAndGlyphs">20</text>
<line x1="432.4" y1="571.3" x2="441" y2="571.3" stroke="#1a1a1a" stroke-width="1.7" stroke-linecap="butt"/>
<text x="422.33" y="576.41" font-size="14.8" font-weight="bold" fill="#1a1a1a" textLength="8.23" lengthAdjust="spacingAndGlyphs">0</text>
<line x1="472.1" y1="571.3" x2="472.1" y2="580.1" stroke="#1a1a1a" stroke-width="1.7" stroke-linecap="butt"/>
<line x1="518.7" y1="571.3" x2="518.7" y2="580.1" stroke="#1a1a1a" stroke-width="1.7" stroke-linecap="butt"/>
<line x1="565.5" y1="571.3" x2="565.5" y2="580.1" stroke="#1a1a1a" stroke-width="1.7" stroke-linecap="butt"/>
<line x1="612.4" y1="571.3" x2="612.4" y2="580.1" stroke="#1a1a1a" stroke-width="1.7" stroke-linecap="butt"/>
<text x="474.6" y="592.3" font-size="15.2" font-weight="bold" text-anchor="end" fill="#1a1a1a" transform="rotate(-45 474.6 592.3)">LPS</text>
<text x="521.2" y="592.3" font-size="15.2" font-weight="bold" text-anchor="end" fill="#1a1a1a" transform="rotate(-45 521.2 592.3)">TGF-β1 + LPS</text>
<text x="568.0" y="592.3" font-size="15.2" font-weight="bold" text-anchor="end" fill="#1a1a1a" transform="rotate(-45 568.0 592.3)">TGF-β2 + LPS</text>
<text x="614.9" y="592.3" font-size="15.2" font-weight="bold" text-anchor="end" fill="#1a1a1a" transform="rotate(-45 614.9 592.3)">TGF-β3 + LPS</text>
<text x="380.10" y="550.51" font-size="15.2" font-weight="bold" fill="#1a1a1a" transform="rotate(-90 380.10 550.51)" textLength="160.84" lengthAdjust="spacingAndGlyphs">MCP-1 protein levels</text>
<text x="400.40" y="499.35" font-size="15.2" font-weight="bold" fill="#1a1a1a" transform="rotate(-90 400.40 499.35)" textLength="58.83" lengthAdjust="spacingAndGlyphs">(ng/mL)</text>
<path d="M457.9,571.3L457.9,399.5L486,399.5L486,571.3" stroke="#b2412f" stroke-width="2.9" fill="none" stroke-linejoin="miter"/>
<path d="M505.2,571.3L505.2,435L532.8,435L532.8,571.3" stroke="#1b6fad" stroke-width="2.9" fill="none" stroke-linejoin="miter"/>
<path d="M551.8,571.3L551.8,468.5L579.8,468.5L579.8,571.3" stroke="#ec8a35" stroke-width="2.9" fill="none" stroke-linejoin="miter"/>
<path d="M598.8,571.3L598.8,470.5L626.8,470.5L626.8,571.3" stroke="#1f7f4f" stroke-width="2.9" fill="none" stroke-linejoin="miter"/>
<path d="M472,394.2L472,402.3M464,394.2L480,394.2M464,402.3L480,402.3" stroke="#b2412f" stroke-width="1.2" fill="none"/>
<path d="M518.9,423.3L518.9,442M510.9,423.3L526.9,423.3M510.9,442L526.9,442" stroke="#1b6fad" stroke-width="1.2" fill="none"/>
<path d="M565.9,460L565.9,473.5M557.9,460L573.9,460M557.9,473.5L573.9,473.5" stroke="#ec8a35" stroke-width="1.2" fill="none"/>
<path d="M612.5,468.6L612.5,471.8M604.5,468.6L620.5,468.6M604.5,471.8L620.5,471.8" stroke="#1f7f4f" stroke-width="1.2" fill="none"/>
<circle cx="467.8" cy="392.2" r="2.2" fill="#b2412f"/>
<circle cx="476.7" cy="396.5" r="2.2" fill="#b2412f"/>
<circle cx="472.1" cy="406.0" r="2.2" fill="#b2412f"/>
<circle cx="518.9" cy="414.2" r="2.2" fill="#1b6fad"/>
<circle cx="518.9" cy="439.5" r="2.2" fill="#1b6fad"/>
<circle cx="518.9" cy="444.0" r="2.2" fill="#1b6fad"/>
<circle cx="565.9" cy="453.9" r="2.2" fill="#ec8a35"/>
<circle cx="565.9" cy="468.5" r="2.2" fill="#ec8a35"/>
<circle cx="565.9" cy="477.7" r="2.2" fill="#ec8a35"/>
<circle cx="612.4" cy="466.5" r="2.2" fill="#1f7f4f"/>
<circle cx="606.0" cy="470.5" r="2.2" fill="#1f7f4f"/>
<circle cx="619.0" cy="470.5" r="2.2" fill="#1f7f4f"/>
<path d="M473.4,390.4L473.4,379.5L520,379.5L520,390.4" stroke="#1a1a1a" stroke-width="2.6" fill="none" stroke-linejoin="miter"/>
<path d="M473.4,369.4L473.4,358.5L564.5,358.5L564.5,375.5" stroke="#1a1a1a" stroke-width="2.6" fill="none" stroke-linejoin="miter"/>
<path d="M473.4,347.9L473.4,337.4L613.2,337.4L613.2,355" stroke="#1a1a1a" stroke-width="2.6" fill="none" stroke-linejoin="miter"/>
<path d="M499.30,370.20L499.30,366.60M499.30,370.20L502.72,369.09M499.30,370.20L495.88,369.09M499.30,370.20L497.18,373.11M499.30,370.20L501.42,373.11" stroke="#1a1a1a" stroke-width="1.6" fill="none" stroke-linecap="butt"/>
<path d="M516.50,349.00L516.50,345.40M516.50,349.00L519.92,347.89M516.50,349.00L513.08,347.89M516.50,349.00L514.38,351.91M516.50,349.00L518.62,351.91" stroke="#1a1a1a" stroke-width="1.6" fill="none" stroke-linecap="butt"/>
<path d="M524.70,349.00L524.70,345.40M524.70,349.00L528.12,347.89M524.70,349.00L521.28,347.89M524.70,349.00L522.58,351.91M524.70,349.00L526.82,351.91" stroke="#1a1a1a" stroke-width="1.6" fill="none" stroke-linecap="butt"/>
<path d="M532.90,349.00L532.90,345.40M532.90,349.00L536.32,347.89M532.90,349.00L529.48,347.89M532.90,349.00L530.78,351.91M532.90,349.00L535.02,351.91" stroke="#1a1a1a" stroke-width="1.6" fill="none" stroke-linecap="butt"/>
<path d="M538.10,329.00L538.10,325.40M538.10,329.00L541.52,327.89M538.10,329.00L534.68,327.89M538.10,329.00L535.98,331.91M538.10,329.00L540.22,331.91" stroke="#1a1a1a" stroke-width="1.6" fill="none" stroke-linecap="butt"/>
<path d="M546.10,329.00L546.10,325.40M546.10,329.00L549.52,327.89M546.10,329.00L542.68,327.89M546.10,329.00L543.98,331.91M546.10,329.00L548.22,331.91" stroke="#1a1a1a" stroke-width="1.6" fill="none" stroke-linecap="butt"/>
<path d="M554.10,329.00L554.10,325.40M554.10,329.00L557.52,327.89M554.10,329.00L550.68,327.89M554.10,329.00L551.98,331.91M554.10,329.00L556.22,331.91" stroke="#1a1a1a" stroke-width="1.6" fill="none" stroke-linecap="butt"/>
<text x="39.64" y="709.12" font-size="27.5" font-weight="bold" fill="#1a1a1a" textLength="17.59" lengthAdjust="spacingAndGlyphs">E</text>
<line x1="156.6" y1="724.1" x2="156.6" y2="921.7" stroke="#1a1a1a" stroke-width="2" stroke-linecap="butt"/>
<line x1="155.6" y1="920.7" x2="351" y2="920.7" stroke="#1a1a1a" stroke-width="2" stroke-linecap="butt"/>
<line x1="148.6" y1="920.7" x2="156.6" y2="920.7" stroke="#1a1a1a" stroke-width="1.7" stroke-linecap="butt"/>
<text x="124.37" y="925.50" font-size="13.9" font-weight="bold" fill="#1a1a1a" textLength="20.68" lengthAdjust="spacingAndGlyphs">0.0</text>
<line x1="148.6" y1="888.1" x2="156.6" y2="888.1" stroke="#1a1a1a" stroke-width="1.7" stroke-linecap="butt"/>
<text x="124.37" y="892.90" font-size="13.9" font-weight="bold" fill="#1a1a1a" textLength="20.68" lengthAdjust="spacingAndGlyphs">0.2</text>
<line x1="148.6" y1="855.5" x2="156.6" y2="855.5" stroke="#1a1a1a" stroke-width="1.7" stroke-linecap="butt"/>
<text x="123.85" y="860.30" font-size="13.9" font-weight="bold" fill="#1a1a1a" textLength="20.68" lengthAdjust="spacingAndGlyphs">0.4</text>
<line x1="148.6" y1="822.9000000000001" x2="156.6" y2="822.9000000000001" stroke="#1a1a1a" stroke-width="1.7" stroke-linecap="butt"/>
<text x="124.30" y="827.70" font-size="13.9" font-weight="bold" fill="#1a1a1a" textLength="20.68" lengthAdjust="spacingAndGlyphs">0.6</text>
<line x1="148.6" y1="790.3000000000001" x2="156.6" y2="790.3000000000001" stroke="#1a1a1a" stroke-width="1.7" stroke-linecap="butt"/>
<text x="124.22" y="795.10" font-size="13.9" font-weight="bold" fill="#1a1a1a" textLength="20.68" lengthAdjust="spacingAndGlyphs">0.8</text>
<line x1="148.6" y1="757.7" x2="156.6" y2="757.7" stroke="#1a1a1a" stroke-width="1.7" stroke-linecap="butt"/>
<text x="124.37" y="762.50" font-size="13.9" font-weight="bold" fill="#1a1a1a" textLength="20.68" lengthAdjust="spacingAndGlyphs">1.0</text>
<line x1="148.6" y1="725.1" x2="156.6" y2="725.1" stroke="#1a1a1a" stroke-width="1.7" stroke-linecap="butt"/>
<text x="124.37" y="729.97" font-size="13.9" font-weight="bold" fill="#1a1a1a" textLength="20.68" lengthAdjust="spacingAndGlyphs">1.2</text>
<line x1="186.1" y1="920.7" x2="186.1" y2="928.8" stroke="#1a1a1a" stroke-width="1.7" stroke-linecap="butt"/>
<line x1="231.1" y1="920.7" x2="231.1" y2="928.8" stroke="#1a1a1a" stroke-width="1.7" stroke-linecap="butt"/>
<line x1="276.2" y1="920.7" x2="276.2" y2="928.8" stroke="#1a1a1a" stroke-width="1.7" stroke-linecap="butt"/>
<line x1="321.2" y1="920.7" x2="321.2" y2="928.8" stroke="#1a1a1a" stroke-width="1.7" stroke-linecap="butt"/>
<text x="189.1" y="941.8" font-size="14.6" font-weight="bold" text-anchor="end" fill="#1a1a1a" transform="rotate(-45 189.1 941.8)">Control</text>
<text x="234.1" y="941.8" font-size="14.6" font-weight="bold" text-anchor="end" fill="#1a1a1a" transform="rotate(-45 234.1 941.8)">TGF-β1</text>
<text x="279.2" y="941.8" font-size="14.6" font-weight="bold" text-anchor="end" fill="#1a1a1a" transform="rotate(-45 279.2 941.8)">TGF-β2</text>
<text x="324.2" y="941.8" font-size="14.6" font-weight="bold" text-anchor="end" fill="#1a1a1a" transform="rotate(-45 324.2 941.8)">TGF-β3</text>
<text x="95.40" y="909.57" font-size="15.5" font-weight="bold" fill="#1a1a1a" transform="rotate(-90 95.40 909.57)" textLength="173.15" lengthAdjust="spacingAndGlyphs">MMP9 gene expression</text>
<text x="114.80" y="944.57" font-size="15.6" font-weight="bold" fill="#1a1a1a" transform="rotate(-90 114.80 944.57)" textLength="242.68" lengthAdjust="spacingAndGlyphs">relative expression (fold control)</text>
<path d="M173.1,920.7L173.1,758.5L199.7,758.5L199.7,920.7" stroke="#1a1a1a" stroke-width="2.9" fill="none" stroke-linejoin="miter"/>
<path d="M218.2,920.7L218.2,783.3L244.8,783.3L244.8,920.7" stroke="#1b6fad" stroke-width="2.9" fill="none" stroke-linejoin="miter"/>
<path d="M263.2,920.7L263.2,815.3L289.9,815.3L289.9,920.7" stroke="#ec8a35" stroke-width="2.9" fill="none" stroke-linejoin="miter"/>
<path d="M308.3,920.7L308.3,819.6L335,819.6L335,920.7" stroke="#1f7f4f" stroke-width="2.9" fill="none" stroke-linejoin="miter"/>
<path d="M186.1,752.1L186.1,763.7M178.1,752.1L194.1,752.1M178.1,763.7L194.1,763.7" stroke="#1a1a1a" stroke-width="1.2" fill="none"/>
<path d="M231.2,773.9L231.2,789.9M223.2,773.9L239.2,773.9M223.2,789.9L239.2,789.9" stroke="#1b6fad" stroke-width="1.2" fill="none"/>
<path d="M276.3,804.5L276.3,826.1M268.3,804.5L284.3,804.5M268.3,826.1L284.3,826.1" stroke="#ec8a35" stroke-width="1.2" fill="none"/>
<path d="M321.3,814.6L321.3,824M313.3,814.6L329.3,814.6M313.3,824L329.3,824" stroke="#1f7f4f" stroke-width="1.2" fill="none"/>
<circle cx="182.3" cy="749.8" r="2.2" fill="#1a1a1a"/>
<circle cx="190.5" cy="752.7" r="2.2" fill="#1a1a1a"/>
<circle cx="186.1" cy="770.1" r="2.2" fill="#1a1a1a"/>
<circle cx="231.2" cy="769.6" r="2.2" fill="#1b6fad"/>
<circle cx="231.2" cy="780.3" r="2.2" fill="#1b6fad"/>
<circle cx="231.2" cy="796.9" r="2.2" fill="#1b6fad"/>
<circle cx="276.3" cy="795.7" r="2.2" fill="#ec8a35"/>
<circle cx="272.5" cy="823.4" r="2.2" fill="#ec8a35"/>
<circle cx="280.6" cy="821.6" r="2.2" fill="#ec8a35"/>
<circle cx="317.6" cy="815.2" r="2.2" fill="#1f7f4f"/>
<circle cx="326.3" cy="816.1" r="2.2" fill="#1f7f4f"/>
<circle cx="321.9" cy="821.9" r="2.2" fill="#1f7f4f"/>
<path d="M184.5,720.5L184.5,704.2L317,704.2L317,720.5" stroke="#1a1a1a" stroke-width="2.6" fill="none" stroke-linejoin="miter"/>
<path d="M185,743.3L185,732.8L277,732.8L277,743.3" stroke="#1a1a1a" stroke-width="2.6" fill="none" stroke-linejoin="miter"/>
<path d="M240.30,691.60L240.30,686.80M240.30,691.60L244.87,690.12M240.30,691.60L235.73,690.12M240.30,691.60L237.48,695.48M240.30,691.60L243.12,695.48" stroke="#1a1a1a" stroke-width="1.75" fill="none" stroke-linecap="butt"/>
<path d="M250.90,691.60L250.90,686.80M250.90,691.60L255.47,690.12M250.90,691.60L246.33,690.12M250.90,691.60L248.08,695.48M250.90,691.60L253.72,695.48" stroke="#1a1a1a" stroke-width="1.75" fill="none" stroke-linecap="butt"/>
<path d="M261.50,691.60L261.50,686.80M261.50,691.60L266.07,690.12M261.50,691.60L256.93,690.12M261.50,691.60L258.68,695.48M261.50,691.60L264.32,695.48" stroke="#1a1a1a" stroke-width="1.75" fill="none" stroke-linecap="butt"/>
<path d="M226.50,722.80L226.50,718.00M226.50,722.80L231.07,721.32M226.50,722.80L221.93,721.32M226.50,722.80L223.68,726.68M226.50,722.80L229.32,726.68" stroke="#1a1a1a" stroke-width="1.75" fill="none" stroke-linecap="butt"/>
<path d="M236.90,722.80L236.90,718.00M236.90,722.80L241.47,721.32M236.90,722.80L232.33,721.32M236.90,722.80L234.08,726.68M236.90,722.80L239.72,726.68" stroke="#1a1a1a" stroke-width="1.75" fill="none" stroke-linecap="butt"/>
<text x="371.66" y="703.88" font-size="27" font-weight="bold" fill="#1a1a1a" textLength="14.97" lengthAdjust="spacingAndGlyphs">F</text>
<line x1="452.4" y1="716.9" x2="452.4" y2="916.5" stroke="#1a1a1a" stroke-width="2" stroke-linecap="butt"/>
<line x1="451.4" y1="915.5" x2="650" y2="915.5" stroke="#1a1a1a" stroke-width="2" stroke-linecap="butt"/>
<line x1="444.3" y1="717.89" x2="452.4" y2="717.89" stroke="#1a1a1a" stroke-width="1.7" stroke-linecap="butt"/>
<text x="418.18" y="722.79" font-size="14.2" font-weight="bold" fill="#1a1a1a" textLength="24.40" lengthAdjust="spacingAndGlyphs">300</text>
<line x1="444.3" y1="783.76" x2="452.4" y2="783.76" stroke="#1a1a1a" stroke-width="1.7" stroke-linecap="butt"/>
<text x="418.18" y="788.66" font-size="14.2" font-weight="bold" fill="#1a1a1a" textLength="24.40" lengthAdjust="spacingAndGlyphs">200</text>
<line x1="444.3" y1="849.63" x2="452.4" y2="849.63" stroke="#1a1a1a" stroke-width="1.7" stroke-linecap="butt"/>
<text x="418.18" y="854.53" font-size="14.2" font-weight="bold" fill="#1a1a1a" textLength="24.40" lengthAdjust="spacingAndGlyphs">100</text>
<line x1="444.3" y1="915.5" x2="452.4" y2="915.5" stroke="#1a1a1a" stroke-width="1.7" stroke-linecap="butt"/>
<text x="434.42" y="920.40" font-size="14.2" font-weight="bold" fill="#1a1a1a" textLength="8.13" lengthAdjust="spacingAndGlyphs">0</text>
<line x1="482.8" y1="915.5" x2="482.8" y2="924.1" stroke="#1a1a1a" stroke-width="1.7" stroke-linecap="butt"/>
<line x1="528.4" y1="915.5" x2="528.4" y2="924.1" stroke="#1a1a1a" stroke-width="1.7" stroke-linecap="butt"/>
<line x1="574.2" y1="915.5" x2="574.2" y2="924.1" stroke="#1a1a1a" stroke-width="1.7" stroke-linecap="butt"/>
<line x1="620.0" y1="915.5" x2="620.0" y2="924.1" stroke="#1a1a1a" stroke-width="1.7" stroke-linecap="butt"/>
<text x="485.3" y="936.3" font-size="14.9" font-weight="bold" text-anchor="end" fill="#1a1a1a" transform="rotate(-45 485.3 936.3)">LPS</text>
<text x="530.9" y="936.3" font-size="14.9" font-weight="bold" text-anchor="end" fill="#1a1a1a" transform="rotate(-45 530.9 936.3)">TGF-β1 + LPS</text>
<text x="576.7" y="936.3" font-size="14.9" font-weight="bold" text-anchor="end" fill="#1a1a1a" transform="rotate(-45 576.7 936.3)">TGF-β2 + LPS</text>
<text x="622.5" y="936.3" font-size="14.9" font-weight="bold" text-anchor="end" fill="#1a1a1a" transform="rotate(-45 622.5 936.3)">TGF-β3 + LPS</text>
<text x="385.00" y="872.47" font-size="15.3" font-weight="bold" fill="#1a1a1a" transform="rotate(-90 385.00 872.47)" textLength="109.43" lengthAdjust="spacingAndGlyphs">MMP-9 activity</text>
<text x="404.90" y="845.93" font-size="15.3" font-weight="bold" fill="#1a1a1a" transform="rotate(-90 404.90 845.93)" textLength="57.29" lengthAdjust="spacingAndGlyphs">(ng/mL)</text>
<path d="M469.8,915.5L469.8,764.2L496,764.2L496,915.5" stroke="#b2412f" stroke-width="2.9" fill="none" stroke-linejoin="miter"/>
<path d="M515.5,915.5L515.5,810L541.9,810L541.9,915.5" stroke="#1b6fad" stroke-width="2.9" fill="none" stroke-linejoin="miter"/>
<path d="M561,915.5L561,809.2L587.5,809.2L587.5,915.5" stroke="#ec8a35" stroke-width="2.9" fill="none" stroke-linejoin="miter"/>
<path d="M606.5,915.5L606.5,811L633.5,811L633.5,915.5" stroke="#1f7f4f" stroke-width="2.9" fill="none" stroke-linejoin="miter"/>
<path d="M482.9,754.1L482.9,771M474.9,754.1L490.9,754.1M474.9,771L490.9,771" stroke="#b2412f" stroke-width="1.2" fill="none"/>
<path d="M528.9,794.5L528.9,822.6M520.9,794.5L536.9,794.5M520.9,822.6L536.9,822.6" stroke="#1b6fad" stroke-width="1.2" fill="none"/>
<path d="M574.4,796.3L574.4,818.6M566.4,796.3L582.4,796.3M566.4,818.6L582.4,818.6" stroke="#ec8a35" stroke-width="1.2" fill="none"/>
<path d="M620.2,804.7L620.2,813.2M612.2,804.7L628.2,804.7M612.2,813.2L628.2,813.2" stroke="#1f7f4f" stroke-width="1.2" fill="none"/>
<circle cx="482.9" cy="739.4" r="2.2" fill="#b2412f"/>
<circle cx="482.9" cy="760.9" r="2.2" fill="#b2412f"/>
<circle cx="482.9" cy="771.5" r="2.2" fill="#b2412f"/>
<circle cx="482.9" cy="777.3" r="2.2" fill="#b2412f"/>
<circle cx="528.9" cy="768.0" r="2.2" fill="#1b6fad"/>
<circle cx="520.8" cy="822.9" r="2.2" fill="#1b6fad"/>
<circle cx="528.9" cy="820.3" r="2.2" fill="#1b6fad"/>
<circle cx="536.7" cy="822.9" r="2.2" fill="#1b6fad"/>
<circle cx="574.4" cy="779.9" r="2.2" fill="#ec8a35"/>
<circle cx="574.4" cy="801.4" r="2.2" fill="#ec8a35"/>
<circle cx="574.4" cy="814.0" r="2.2" fill="#ec8a35"/>
<circle cx="574.4" cy="833.5" r="2.2" fill="#ec8a35"/>
<circle cx="620.2" cy="798.3" r="2.2" fill="#1f7f4f"/>
<circle cx="620.2" cy="805.7" r="2.2" fill="#1f7f4f"/>
<circle cx="620.2" cy="811.5" r="2.2" fill="#1f7f4f"/>
<circle cx="620.2" cy="818.6" r="2.2" fill="#1f7f4f"/>
<path d="M484,713.5L484,703.5L616,703.5L616,713.5" stroke="#1a1a1a" stroke-width="2.6" fill="none" stroke-linejoin="miter"/>
<path d="M484,730.6L484,721L573.9,721L573.9,730.6" stroke="#1a1a1a" stroke-width="2.6" fill="none" stroke-linejoin="miter"/>
<path d="M545.70,695.50L545.70,691.50M545.70,695.50L549.50,694.26M545.70,695.50L541.90,694.26M545.70,695.50L543.35,698.74M545.70,695.50L548.05,698.74" stroke="#1a1a1a" stroke-width="1.65" fill="none" stroke-linecap="butt"/>
<path d="M528.40,713.20L528.40,709.20M528.40,713.20L532.20,711.96M528.40,713.20L524.60,711.96M528.40,713.20L526.05,716.44M528.40,713.20L530.75,716.44" stroke="#1a1a1a" stroke-width="1.65" fill="none" stroke-linecap="butt"/>
<text x="39.80" y="1050.20" font-size="27.5" font-weight="bold" fill="#1a1a1a" textLength="22.35" lengthAdjust="spacingAndGlyphs">G</text>
<rect x="127.6" y="1033.0" width="204.9" height="28.6" fill="#d9d9dc" stroke="#4a4a4a" stroke-width="1.4"/>
<rect x="341.6" y="1033.0" width="205.0" height="28.6" fill="#d9d9dc" stroke="#4a4a4a" stroke-width="1.4"/>
<rect x="556.5" y="1033.0" width="204.1" height="28.6" fill="#d9d9dc" stroke="#4a4a4a" stroke-width="1.4"/>
<text x="205.36" y="1052.35" font-size="15" font-weight="normal" fill="#1a1a1a" textLength="47.47" lengthAdjust="spacingAndGlyphs">TGFB1</text>
<text x="420.05" y="1052.55" font-size="15" font-weight="normal" fill="#1a1a1a" textLength="48.60" lengthAdjust="spacingAndGlyphs">TGFB2</text>
<text x="634.55" y="1052.55" font-size="15" font-weight="normal" fill="#1a1a1a" textLength="47.80" lengthAdjust="spacingAndGlyphs">TGFB3</text>
<rect x="127.6" y="1061.6" width="204.9" height="192.4" fill="#ffffff" stroke="#4a4a4a" stroke-width="1.4"/>
<rect x="341.6" y="1061.6" width="205.0" height="192.4" fill="#ffffff" stroke="#4a4a4a" stroke-width="1.4"/>
<rect x="556.5" y="1061.6" width="204.1" height="192.4" fill="#ffffff" stroke="#4a4a4a" stroke-width="1.4"/>
<rect x="760.6" y="1061.6" width="29.4" height="192.4" fill="#d9d9dc" stroke="#4a4a4a" stroke-width="1.4"/>
<rect x="127.6" y="1260.3" width="204.9" height="192.0" fill="#ffffff" stroke="#4a4a4a" stroke-width="1.4"/>
<rect x="341.6" y="1260.3" width="205.0" height="192.0" fill="#ffffff" stroke="#4a4a4a" stroke-width="1.4"/>
<rect x="556.5" y="1260.3" width="204.1" height="192.0" fill="#ffffff" stroke="#4a4a4a" stroke-width="1.4"/>
<rect x="760.6" y="1260.3" width="29.4" height="192.0" fill="#d9d9dc" stroke="#4a4a4a" stroke-width="1.4"/>
<text x="770.04" y="1138.79" font-size="15.3" font-weight="normal" fill="#1a1a1a" transform="rotate(90 770.04 1138.79)" textLength="39.05" lengthAdjust="spacingAndGlyphs">CCL2</text>
<text x="769.74" y="1333.81" font-size="15.3" font-weight="normal" fill="#1a1a1a" transform="rotate(90 769.74 1333.81)" textLength="44.62" lengthAdjust="spacingAndGlyphs">MMP9</text>
<line x1="122.6" y1="1216.2" x2="127.6" y2="1216.2" stroke="#4a4a4a" stroke-width="1.2" stroke-linecap="butt"/>
<text x="110.83" y="1221.16" font-size="14.6" font-weight="normal" fill="#686868" textLength="8.12" lengthAdjust="spacingAndGlyphs">5</text>
<line x1="122.6" y1="1174.2" x2="127.6" y2="1174.2" stroke="#4a4a4a" stroke-width="1.2" stroke-linecap="butt"/>
<text x="110.90" y="1179.24" font-size="14.6" font-weight="normal" fill="#686868" textLength="8.12" lengthAdjust="spacingAndGlyphs">6</text>
<line x1="122.6" y1="1132.2" x2="127.6" y2="1132.2" stroke="#4a4a4a" stroke-width="1.2" stroke-linecap="butt"/>
<text x="110.98" y="1137.24" font-size="14.6" font-weight="normal" fill="#686868" textLength="8.12" lengthAdjust="spacingAndGlyphs">7</text>
<line x1="122.6" y1="1090.2" x2="127.6" y2="1090.2" stroke="#4a4a4a" stroke-width="1.2" stroke-linecap="butt"/>
<text x="110.83" y="1095.24" font-size="14.6" font-weight="normal" fill="#686868" textLength="8.12" lengthAdjust="spacingAndGlyphs">8</text>
<line x1="122.6" y1="1444.6" x2="127.6" y2="1444.6" stroke="#4a4a4a" stroke-width="1.2" stroke-linecap="butt"/>
<text x="111.03" y="1449.64" font-size="14.6" font-weight="normal" fill="#686868" textLength="8.12" lengthAdjust="spacingAndGlyphs">0</text>
<line x1="122.6" y1="1380.1499999999999" x2="127.6" y2="1380.1499999999999" stroke="#4a4a4a" stroke-width="1.2" stroke-linecap="butt"/>
<text x="111.03" y="1385.11" font-size="14.6" font-weight="normal" fill="#686868" textLength="8.12" lengthAdjust="spacingAndGlyphs">5</text>
<line x1="122.6" y1="1315.6999999999998" x2="127.6" y2="1315.6999999999998" stroke="#4a4a4a" stroke-width="1.2" stroke-linecap="butt"/>
<text x="102.93" y="1320.74" font-size="14.6" font-weight="normal" fill="#686868" textLength="16.24" lengthAdjust="spacingAndGlyphs">10</text>
<line x1="128.9" y1="1452.3" x2="128.9" y2="1457.2" stroke="#4a4a4a" stroke-width="1.2" stroke-linecap="butt"/>
<text x="118.75" y="1472.87" font-size="14.6" font-weight="normal" fill="#686868" textLength="20.30" lengthAdjust="spacingAndGlyphs">3.5</text>
<line x1="172.73000000000002" y1="1452.3" x2="172.73000000000002" y2="1457.2" stroke="#4a4a4a" stroke-width="1.2" stroke-linecap="butt"/>
<text x="162.69" y="1472.87" font-size="14.6" font-weight="normal" fill="#686868" textLength="20.30" lengthAdjust="spacingAndGlyphs">4.0</text>
<line x1="216.56" y1="1452.3" x2="216.56" y2="1457.2" stroke="#4a4a4a" stroke-width="1.2" stroke-linecap="butt"/>
<text x="206.52" y="1472.72" font-size="14.6" font-weight="normal" fill="#686868" textLength="20.30" lengthAdjust="spacingAndGlyphs">4.5</text>
<line x1="260.39" y1="1452.3" x2="260.39" y2="1457.2" stroke="#4a4a4a" stroke-width="1.2" stroke-linecap="butt"/>
<text x="250.24" y="1472.87" font-size="14.6" font-weight="normal" fill="#686868" textLength="20.30" lengthAdjust="spacingAndGlyphs">5.0</text>
<line x1="304.22" y1="1452.3" x2="304.22" y2="1457.2" stroke="#4a4a4a" stroke-width="1.2" stroke-linecap="butt"/>
<text x="294.07" y="1472.72" font-size="14.6" font-weight="normal" fill="#686868" textLength="20.30" lengthAdjust="spacingAndGlyphs">5.5</text>
<line x1="345.1" y1="1452.3" x2="345.1" y2="1457.2" stroke="#4a4a4a" stroke-width="1.2" stroke-linecap="butt"/>
<text x="334.88" y="1472.87" font-size="14.6" font-weight="normal" fill="#686868" textLength="20.30" lengthAdjust="spacingAndGlyphs">2.5</text>
<line x1="378.55" y1="1452.3" x2="378.55" y2="1457.2" stroke="#4a4a4a" stroke-width="1.2" stroke-linecap="butt"/>
<text x="368.40" y="1472.87" font-size="14.6" font-weight="normal" fill="#686868" textLength="20.30" lengthAdjust="spacingAndGlyphs">3.0</text>
<line x1="412.0" y1="1452.3" x2="412.0" y2="1457.2" stroke="#4a4a4a" stroke-width="1.2" stroke-linecap="butt"/>
<text x="401.85" y="1472.87" font-size="14.6" font-weight="normal" fill="#686868" textLength="20.30" lengthAdjust="spacingAndGlyphs">3.5</text>
<line x1="445.45000000000005" y1="1452.3" x2="445.45000000000005" y2="1457.2" stroke="#4a4a4a" stroke-width="1.2" stroke-linecap="butt"/>
<text x="435.41" y="1472.87" font-size="14.6" font-weight="normal" fill="#686868" textLength="20.30" lengthAdjust="spacingAndGlyphs">4.0</text>
<line x1="478.90000000000003" y1="1452.3" x2="478.90000000000003" y2="1457.2" stroke="#4a4a4a" stroke-width="1.2" stroke-linecap="butt"/>
<text x="468.86" y="1472.72" font-size="14.6" font-weight="normal" fill="#686868" textLength="20.30" lengthAdjust="spacingAndGlyphs">4.5</text>
<line x1="512.35" y1="1452.3" x2="512.35" y2="1457.2" stroke="#4a4a4a" stroke-width="1.2" stroke-linecap="butt"/>
<text x="502.20" y="1472.87" font-size="14.6" font-weight="normal" fill="#686868" textLength="20.30" lengthAdjust="spacingAndGlyphs">5.0</text>
<line x1="545.8000000000001" y1="1452.3" x2="545.8000000000001" y2="1457.2" stroke="#4a4a4a" stroke-width="1.2" stroke-linecap="butt"/>
<text x="535.65" y="1472.72" font-size="14.6" font-weight="normal" fill="#686868" textLength="20.30" lengthAdjust="spacingAndGlyphs">5.5</text>
<line x1="557.2" y1="1452.3" x2="557.2" y2="1457.2" stroke="#4a4a4a" stroke-width="1.2" stroke-linecap="butt"/>
<text x="552.97" y="1472.72" font-size="14.6" font-weight="normal" fill="#686868" textLength="8.12" lengthAdjust="spacingAndGlyphs">1</text>
<line x1="594.5500000000001" y1="1452.3" x2="594.5500000000001" y2="1457.2" stroke="#4a4a4a" stroke-width="1.2" stroke-linecap="butt"/>
<text x="590.50" y="1472.87" font-size="14.6" font-weight="normal" fill="#686868" textLength="8.12" lengthAdjust="spacingAndGlyphs">2</text>
<line x1="631.9000000000001" y1="1452.3" x2="631.9000000000001" y2="1457.2" stroke="#4a4a4a" stroke-width="1.2" stroke-linecap="butt"/>
<text x="627.88" y="1472.87" font-size="14.6" font-weight="normal" fill="#686868" textLength="8.12" lengthAdjust="spacingAndGlyphs">3</text>
<line x1="669.25" y1="1452.3" x2="669.25" y2="1457.2" stroke="#4a4a4a" stroke-width="1.2" stroke-linecap="butt"/>
<text x="665.24" y="1472.72" font-size="14.6" font-weight="normal" fill="#686868" textLength="8.12" lengthAdjust="spacingAndGlyphs">4</text>
<line x1="706.6" y1="1452.3" x2="706.6" y2="1457.2" stroke="#4a4a4a" stroke-width="1.2" stroke-linecap="butt"/>
<text x="702.55" y="1472.72" font-size="14.6" font-weight="normal" fill="#686868" textLength="8.12" lengthAdjust="spacingAndGlyphs">5</text>
<line x1="743.95" y1="1452.3" x2="743.95" y2="1457.2" stroke="#4a4a4a" stroke-width="1.2" stroke-linecap="butt"/>
<text x="739.86" y="1472.87" font-size="14.6" font-weight="normal" fill="#686868" textLength="8.12" lengthAdjust="spacingAndGlyphs">6</text>
<text x="358.68" y="1495.30" font-size="13.5" font-weight="normal" fill="#1a1a1a" textLength="169.61" lengthAdjust="spacingAndGlyphs">Gene expression (log2CPM)</text>
<text x="94.20" y="1342.83" font-size="13.5" font-weight="normal" fill="#1a1a1a" transform="rotate(-90 94.20 1342.83)" textLength="170.52" lengthAdjust="spacingAndGlyphs">Gene expression (log2CPM)</text>
<circle cx="191.8" cy="1070.5" r="1.5" fill="#111111"/>
<circle cx="202.3" cy="1078.7" r="1.5" fill="#111111"/>
<circle cx="283.2" cy="1075.5" r="1.5" fill="#111111"/>
<circle cx="287.1" cy="1096.2" r="1.5" fill="#111111"/>
<circle cx="291.0" cy="1111.9" r="1.5" fill="#111111"/>
<circle cx="155.0" cy="1112.6" r="1.5" fill="#111111"/>
<circle cx="179.9" cy="1116.5" r="1.5" fill="#111111"/>
<circle cx="216.4" cy="1111.0" r="1.5" fill="#111111"/>
<circle cx="223.3" cy="1116.9" r="1.5" fill="#111111"/>
<circle cx="241.7" cy="1117.5" r="1.5" fill="#111111"/>
<circle cx="256.5" cy="1119.5" r="1.5" fill="#111111"/>
<circle cx="215.1" cy="1122.1" r="1.5" fill="#111111"/>
<circle cx="271.3" cy="1125.7" r="1.5" fill="#111111"/>
<circle cx="176.0" cy="1131.7" r="1.5" fill="#111111"/>
<circle cx="190.5" cy="1133.6" r="1.5" fill="#111111"/>
<circle cx="253.6" cy="1130.3" r="1.5" fill="#111111"/>
<circle cx="185.9" cy="1138.2" r="1.5" fill="#111111"/>
<circle cx="232.5" cy="1138.2" r="1.5" fill="#111111"/>
<circle cx="273.0" cy="1138.2" r="1.5" fill="#111111"/>
<circle cx="204.3" cy="1143.8" r="1.5" fill="#111111"/>
<circle cx="201.6" cy="1146.5" r="1.5" fill="#111111"/>
<circle cx="164.2" cy="1146.1" r="1.5" fill="#111111"/>
<circle cx="136.5" cy="1148.8" r="1.5" fill="#111111"/>
<circle cx="143.4" cy="1152.0" r="1.5" fill="#111111"/>
<circle cx="163.5" cy="1153.7" r="1.5" fill="#111111"/>
<circle cx="177.6" cy="1155.3" r="1.5" fill="#111111"/>
<circle cx="176.0" cy="1156.0" r="1.5" fill="#111111"/>
<circle cx="208.2" cy="1155.3" r="1.5" fill="#111111"/>
<circle cx="258.5" cy="1153.7" r="1.5" fill="#111111"/>
<circle cx="236.5" cy="1160.3" r="1.5" fill="#111111"/>
<circle cx="239.1" cy="1164.2" r="1.5" fill="#111111"/>
<circle cx="259.8" cy="1160.9" r="1.5" fill="#111111"/>
<circle cx="172.7" cy="1165.9" r="1.5" fill="#111111"/>
<circle cx="176.3" cy="1163.9" r="1.5" fill="#111111"/>
<circle cx="185.9" cy="1165.2" r="1.5" fill="#111111"/>
<circle cx="191.8" cy="1164.5" r="1.5" fill="#111111"/>
<circle cx="230.6" cy="1166.8" r="1.5" fill="#111111"/>
<circle cx="265.7" cy="1168.5" r="1.5" fill="#111111"/>
<circle cx="297.0" cy="1152.0" r="1.5" fill="#111111"/>
<circle cx="296.3" cy="1171.1" r="1.5" fill="#111111"/>
<circle cx="204.3" cy="1174.1" r="1.5" fill="#111111"/>
<circle cx="210.8" cy="1177.4" r="1.5" fill="#111111"/>
<circle cx="205.9" cy="1184.9" r="1.5" fill="#111111"/>
<circle cx="212.5" cy="1184.3" r="1.5" fill="#111111"/>
<circle cx="229.9" cy="1185.2" r="1.5" fill="#111111"/>
<circle cx="190.8" cy="1193.1" r="1.5" fill="#111111"/>
<circle cx="251.3" cy="1195.1" r="1.5" fill="#111111"/>
<circle cx="271.3" cy="1190.8" r="1.5" fill="#111111"/>
<circle cx="278.6" cy="1195.4" r="1.5" fill="#111111"/>
<circle cx="322.6" cy="1189.8" r="1.5" fill="#111111"/>
<circle cx="213.1" cy="1205.3" r="1.5" fill="#111111"/>
<circle cx="259.2" cy="1217.8" r="1.5" fill="#111111"/>
<circle cx="246.0" cy="1245.7" r="1.5" fill="#111111"/>
<circle cx="273.3" cy="1243.4" r="1.5" fill="#111111"/>
<circle cx="254.2" cy="1129.7" r="1.5" fill="#111111"/>
<circle cx="410.0" cy="1070.3" r="1.5" fill="#111111"/>
<circle cx="358.5" cy="1078.7" r="1.5" fill="#111111"/>
<circle cx="493.7" cy="1075.2" r="1.5" fill="#111111"/>
<circle cx="382.9" cy="1096.2" r="1.5" fill="#111111"/>
<circle cx="350.4" cy="1116.5" r="1.5" fill="#111111"/>
<circle cx="368.4" cy="1112.5" r="1.5" fill="#111111"/>
<circle cx="419.0" cy="1116.8" r="1.5" fill="#111111"/>
<circle cx="423.0" cy="1111.0" r="1.5" fill="#111111"/>
<circle cx="437.6" cy="1119.4" r="1.5" fill="#111111"/>
<circle cx="451.5" cy="1112.2" r="1.5" fill="#111111"/>
<circle cx="470.4" cy="1117.4" r="1.5" fill="#111111"/>
<circle cx="385.2" cy="1122.4" r="1.5" fill="#111111"/>
<circle cx="375.9" cy="1125.8" r="1.5" fill="#111111"/>
<circle cx="428.3" cy="1131.4" r="1.5" fill="#111111"/>
<circle cx="489.3" cy="1130.2" r="1.5" fill="#111111"/>
<circle cx="532.7" cy="1133.4" r="1.5" fill="#111111"/>
<circle cx="403.3" cy="1138.3" r="1.5" fill="#111111"/>
<circle cx="467.2" cy="1138.6" r="1.5" fill="#111111"/>
<circle cx="502.4" cy="1138.3" r="1.5" fill="#111111"/>
<circle cx="421.0" cy="1143.3" r="1.5" fill="#111111"/>
<circle cx="390.2" cy="1148.5" r="1.5" fill="#111111"/>
<circle cx="397.5" cy="1149.4" r="1.5" fill="#111111"/>
<circle cx="452.1" cy="1146.5" r="1.5" fill="#111111"/>
<circle cx="455.6" cy="1145.9" r="1.5" fill="#111111"/>
<circle cx="421.3" cy="1151.4" r="1.5" fill="#111111"/>
<circle cx="421.9" cy="1153.8" r="1.5" fill="#111111"/>
<circle cx="411.4" cy="1155.5" r="1.5" fill="#111111"/>
<circle cx="407.9" cy="1160.4" r="1.5" fill="#111111"/>
<circle cx="462.3" cy="1153.8" r="1.5" fill="#111111"/>
<circle cx="498.1" cy="1151.7" r="1.5" fill="#111111"/>
<circle cx="446.3" cy="1155.2" r="1.5" fill="#111111"/>
<circle cx="446.3" cy="1161.6" r="1.5" fill="#111111"/>
<circle cx="454.2" cy="1164.8" r="1.5" fill="#111111"/>
<circle cx="420.7" cy="1163.9" r="1.5" fill="#111111"/>
<circle cx="423.0" cy="1166.0" r="1.5" fill="#111111"/>
<circle cx="430.3" cy="1163.4" r="1.5" fill="#111111"/>
<circle cx="433.2" cy="1163.9" r="1.5" fill="#111111"/>
<circle cx="373.6" cy="1168.9" r="1.5" fill="#111111"/>
<circle cx="395.4" cy="1166.8" r="1.5" fill="#111111"/>
<circle cx="396.6" cy="1171.2" r="1.5" fill="#111111"/>
<circle cx="487.6" cy="1173.2" r="1.5" fill="#111111"/>
<circle cx="481.2" cy="1177.0" r="1.5" fill="#111111"/>
<circle cx="403.6" cy="1184.9" r="1.5" fill="#111111"/>
<circle cx="412.0" cy="1185.2" r="1.5" fill="#111111"/>
<circle cx="394.6" cy="1189.5" r="1.5" fill="#111111"/>
<circle cx="458.0" cy="1184.9" r="1.5" fill="#111111"/>
<circle cx="459.4" cy="1185.7" r="1.5" fill="#111111"/>
<circle cx="460.9" cy="1195.0" r="1.5" fill="#111111"/>
<circle cx="480.0" cy="1193.0" r="1.5" fill="#111111"/>
<circle cx="493.4" cy="1191.0" r="1.5" fill="#111111"/>
<circle cx="521.3" cy="1195.9" r="1.5" fill="#111111"/>
<circle cx="403.3" cy="1205.2" r="1.5" fill="#111111"/>
<circle cx="506.8" cy="1217.7" r="1.5" fill="#111111"/>
<circle cx="537.0" cy="1216.9" r="1.5" fill="#111111"/>
<circle cx="492.0" cy="1243.3" r="1.5" fill="#111111"/>
<circle cx="513.8" cy="1245.4" r="1.5" fill="#111111"/>
<circle cx="684.0" cy="1069.8" r="1.5" fill="#111111"/>
<circle cx="677.8" cy="1075.4" r="1.5" fill="#111111"/>
<circle cx="685.0" cy="1078.5" r="1.5" fill="#111111"/>
<circle cx="636.8" cy="1096.2" r="1.5" fill="#111111"/>
<circle cx="686.5" cy="1111.1" r="1.5" fill="#111111"/>
<circle cx="687.1" cy="1112.4" r="1.5" fill="#111111"/>
<circle cx="643.0" cy="1112.7" r="1.5" fill="#111111"/>
<circle cx="638.3" cy="1117.0" r="1.5" fill="#111111"/>
<circle cx="667.9" cy="1117.0" r="1.5" fill="#111111"/>
<circle cx="674.1" cy="1118.0" r="1.5" fill="#111111"/>
<circle cx="678.1" cy="1120.2" r="1.5" fill="#111111"/>
<circle cx="674.1" cy="1122.6" r="1.5" fill="#111111"/>
<circle cx="638.9" cy="1125.8" r="1.5" fill="#111111"/>
<circle cx="656.4" cy="1131.0" r="1.5" fill="#111111"/>
<circle cx="666.3" cy="1132.0" r="1.5" fill="#111111"/>
<circle cx="671.0" cy="1133.5" r="1.5" fill="#111111"/>
<circle cx="682.8" cy="1130.4" r="1.5" fill="#111111"/>
<circle cx="650.8" cy="1138.5" r="1.5" fill="#111111"/>
<circle cx="675.6" cy="1138.2" r="1.5" fill="#111111"/>
<circle cx="687.5" cy="1138.5" r="1.5" fill="#111111"/>
<circle cx="683.1" cy="1143.5" r="1.5" fill="#111111"/>
<circle cx="682.5" cy="1146.0" r="1.5" fill="#111111"/>
<circle cx="661.0" cy="1146.6" r="1.5" fill="#111111"/>
<circle cx="671.6" cy="1149.1" r="1.5" fill="#111111"/>
<circle cx="681.9" cy="1150.0" r="1.5" fill="#111111"/>
<circle cx="691.2" cy="1153.1" r="1.5" fill="#111111"/>
<circle cx="695.9" cy="1152.2" r="1.5" fill="#111111"/>
<circle cx="699.6" cy="1155.3" r="1.5" fill="#111111"/>
<circle cx="677.2" cy="1154.4" r="1.5" fill="#111111"/>
<circle cx="635.8" cy="1155.9" r="1.5" fill="#111111"/>
<circle cx="631.2" cy="1160.6" r="1.5" fill="#111111"/>
<circle cx="673.1" cy="1161.5" r="1.5" fill="#111111"/>
<circle cx="638.3" cy="1164.6" r="1.5" fill="#111111"/>
<circle cx="639.9" cy="1166.2" r="1.5" fill="#111111"/>
<circle cx="649.2" cy="1164.0" r="1.5" fill="#111111"/>
<circle cx="652.3" cy="1164.6" r="1.5" fill="#111111"/>
<circle cx="658.5" cy="1160.6" r="1.5" fill="#111111"/>
<circle cx="663.2" cy="1166.2" r="1.5" fill="#111111"/>
<circle cx="669.4" cy="1168.7" r="1.5" fill="#111111"/>
<circle cx="657.0" cy="1171.5" r="1.5" fill="#111111"/>
<circle cx="685.6" cy="1174.0" r="1.5" fill="#111111"/>
<circle cx="683.4" cy="1177.1" r="1.5" fill="#111111"/>
<circle cx="643.0" cy="1185.5" r="1.5" fill="#111111"/>
<circle cx="660.7" cy="1184.9" r="1.5" fill="#111111"/>
<circle cx="675.6" cy="1185.5" r="1.5" fill="#111111"/>
<circle cx="694.3" cy="1184.9" r="1.5" fill="#111111"/>
<circle cx="565.2" cy="1190.1" r="1.5" fill="#111111"/>
<circle cx="654.5" cy="1191.7" r="1.5" fill="#111111"/>
<circle cx="653.2" cy="1193.2" r="1.5" fill="#111111"/>
<circle cx="707.4" cy="1195.1" r="1.5" fill="#111111"/>
<circle cx="720.1" cy="1196.4" r="1.5" fill="#111111"/>
<circle cx="664.8" cy="1205.7" r="1.5" fill="#111111"/>
<circle cx="705.2" cy="1217.5" r="1.5" fill="#111111"/>
<circle cx="750.9" cy="1216.9" r="1.5" fill="#111111"/>
<circle cx="709.9" cy="1243.3" r="1.5" fill="#111111"/>
<circle cx="713.0" cy="1245.5" r="1.5" fill="#111111"/>
<circle cx="135.9" cy="1355.2" r="1.5" fill="#111111"/>
<circle cx="143.4" cy="1361.8" r="1.5" fill="#111111"/>
<circle cx="155.0" cy="1337.1" r="1.5" fill="#111111"/>
<circle cx="166.5" cy="1335.5" r="1.5" fill="#111111"/>
<circle cx="176.0" cy="1337.8" r="1.5" fill="#111111"/>
<circle cx="180.3" cy="1335.5" r="1.5" fill="#111111"/>
<circle cx="176.3" cy="1343.7" r="1.5" fill="#111111"/>
<circle cx="177.6" cy="1345.3" r="1.5" fill="#111111"/>
<circle cx="172.0" cy="1350.3" r="1.5" fill="#111111"/>
<circle cx="185.9" cy="1343.7" r="1.5" fill="#111111"/>
<circle cx="185.9" cy="1351.9" r="1.5" fill="#111111"/>
<circle cx="191.8" cy="1342.0" r="1.5" fill="#111111"/>
<circle cx="191.1" cy="1346.3" r="1.5" fill="#111111"/>
<circle cx="201.6" cy="1334.5" r="1.5" fill="#111111"/>
<circle cx="206.6" cy="1339.4" r="1.5" fill="#111111"/>
<circle cx="205.9" cy="1347.0" r="1.5" fill="#111111"/>
<circle cx="214.8" cy="1337.8" r="1.5" fill="#111111"/>
<circle cx="213.1" cy="1343.7" r="1.5" fill="#111111"/>
<circle cx="223.7" cy="1338.8" r="1.5" fill="#111111"/>
<circle cx="231.2" cy="1333.8" r="1.5" fill="#111111"/>
<circle cx="232.9" cy="1340.4" r="1.5" fill="#111111"/>
<circle cx="237.1" cy="1343.0" r="1.5" fill="#111111"/>
<circle cx="239.4" cy="1339.7" r="1.5" fill="#111111"/>
<circle cx="202.3" cy="1355.2" r="1.5" fill="#111111"/>
<circle cx="204.9" cy="1361.8" r="1.5" fill="#111111"/>
<circle cx="207.5" cy="1368.3" r="1.5" fill="#111111"/>
<circle cx="211.5" cy="1367.4" r="1.5" fill="#111111"/>
<circle cx="214.8" cy="1357.8" r="1.5" fill="#111111"/>
<circle cx="213.1" cy="1363.4" r="1.5" fill="#111111"/>
<circle cx="216.4" cy="1355.2" r="1.5" fill="#111111"/>
<circle cx="190.8" cy="1365.7" r="1.5" fill="#111111"/>
<circle cx="191.1" cy="1374.3" r="1.5" fill="#111111"/>
<circle cx="241.7" cy="1380.8" r="1.5" fill="#111111"/>
<circle cx="204.3" cy="1401.9" r="1.5" fill="#111111"/>
<circle cx="194.4" cy="1436.4" r="1.5" fill="#111111"/>
<circle cx="246.0" cy="1444.0" r="1.5" fill="#111111"/>
<circle cx="253.2" cy="1322.3" r="1.5" fill="#111111"/>
<circle cx="259.2" cy="1319.7" r="1.5" fill="#111111"/>
<circle cx="265.7" cy="1316.4" r="1.5" fill="#111111"/>
<circle cx="271.3" cy="1316.4" r="1.5" fill="#111111"/>
<circle cx="273.0" cy="1329.9" r="1.5" fill="#111111"/>
<circle cx="259.2" cy="1333.2" r="1.5" fill="#111111"/>
<circle cx="283.2" cy="1326.3" r="1.5" fill="#111111"/>
<circle cx="287.1" cy="1322.3" r="1.5" fill="#111111"/>
<circle cx="291.0" cy="1317.4" r="1.5" fill="#111111"/>
<circle cx="322.6" cy="1324.0" r="1.5" fill="#111111"/>
<circle cx="297.6" cy="1339.7" r="1.5" fill="#111111"/>
<circle cx="296.3" cy="1355.2" r="1.5" fill="#111111"/>
<circle cx="250.9" cy="1355.2" r="1.5" fill="#111111"/>
<circle cx="254.2" cy="1358.5" r="1.5" fill="#111111"/>
<circle cx="256.9" cy="1355.8" r="1.5" fill="#111111"/>
<circle cx="259.2" cy="1352.6" r="1.5" fill="#111111"/>
<circle cx="260.1" cy="1358.5" r="1.5" fill="#111111"/>
<circle cx="271.3" cy="1390.7" r="1.5" fill="#111111"/>
<circle cx="278.9" cy="1395.3" r="1.5" fill="#111111"/>
<circle cx="273.3" cy="1406.8" r="1.5" fill="#111111"/>
<circle cx="163.8" cy="1355.2" r="1.5" fill="#111111"/>
<circle cx="373.6" cy="1316.3" r="1.5" fill="#111111"/>
<circle cx="375.9" cy="1316.3" r="1.5" fill="#111111"/>
<circle cx="382.9" cy="1322.1" r="1.5" fill="#111111"/>
<circle cx="394.6" cy="1324.1" r="1.5" fill="#111111"/>
<circle cx="408.5" cy="1319.8" r="1.5" fill="#111111"/>
<circle cx="428.3" cy="1322.1" r="1.5" fill="#111111"/>
<circle cx="451.5" cy="1317.5" r="1.5" fill="#111111"/>
<circle cx="493.4" cy="1326.2" r="1.5" fill="#111111"/>
<circle cx="350.4" cy="1335.2" r="1.5" fill="#111111"/>
<circle cx="367.8" cy="1337.2" r="1.5" fill="#111111"/>
<circle cx="385.2" cy="1337.8" r="1.5" fill="#111111"/>
<circle cx="396.3" cy="1334.3" r="1.5" fill="#111111"/>
<circle cx="403.3" cy="1330.0" r="1.5" fill="#111111"/>
<circle cx="421.0" cy="1333.5" r="1.5" fill="#111111"/>
<circle cx="419.0" cy="1338.7" r="1.5" fill="#111111"/>
<circle cx="422.2" cy="1341.0" r="1.5" fill="#111111"/>
<circle cx="428.9" cy="1337.2" r="1.5" fill="#111111"/>
<circle cx="433.2" cy="1340.1" r="1.5" fill="#111111"/>
<circle cx="430.3" cy="1343.0" r="1.5" fill="#111111"/>
<circle cx="451.5" cy="1334.3" r="1.5" fill="#111111"/>
<circle cx="455.0" cy="1343.0" r="1.5" fill="#111111"/>
<circle cx="467.5" cy="1343.6" r="1.5" fill="#111111"/>
<circle cx="502.4" cy="1340.7" r="1.5" fill="#111111"/>
<circle cx="403.3" cy="1343.6" r="1.5" fill="#111111"/>
<circle cx="410.0" cy="1345.4" r="1.5" fill="#111111"/>
<circle cx="412.0" cy="1346.8" r="1.5" fill="#111111"/>
<circle cx="423.0" cy="1350.3" r="1.5" fill="#111111"/>
<circle cx="423.0" cy="1355.3" r="1.5" fill="#111111"/>
<circle cx="390.2" cy="1355.3" r="1.5" fill="#111111"/>
<circle cx="396.9" cy="1355.3" r="1.5" fill="#111111"/>
<circle cx="358.5" cy="1356.1" r="1.5" fill="#111111"/>
<circle cx="437.6" cy="1356.1" r="1.5" fill="#111111"/>
<circle cx="446.3" cy="1358.2" r="1.5" fill="#111111"/>
<circle cx="453.6" cy="1351.8" r="1.5" fill="#111111"/>
<circle cx="458.5" cy="1353.2" r="1.5" fill="#111111"/>
<circle cx="462.3" cy="1354.7" r="1.5" fill="#111111"/>
<circle cx="455.6" cy="1357.0" r="1.5" fill="#111111"/>
<circle cx="457.9" cy="1362.0" r="1.5" fill="#111111"/>
<circle cx="421.0" cy="1362.0" r="1.5" fill="#111111"/>
<circle cx="412.0" cy="1368.6" r="1.5" fill="#111111"/>
<circle cx="489.3" cy="1359.0" r="1.5" fill="#111111"/>
<circle cx="498.7" cy="1361.4" r="1.5" fill="#111111"/>
<circle cx="506.8" cy="1352.6" r="1.5" fill="#111111"/>
<circle cx="532.7" cy="1366.3" r="1.5" fill="#111111"/>
<circle cx="480.3" cy="1374.5" r="1.5" fill="#111111"/>
<circle cx="470.4" cy="1380.9" r="1.5" fill="#111111"/>
<circle cx="493.4" cy="1391.0" r="1.5" fill="#111111"/>
<circle cx="521.0" cy="1395.4" r="1.5" fill="#111111"/>
<circle cx="487.6" cy="1401.8" r="1.5" fill="#111111"/>
<circle cx="492.3" cy="1407.0" r="1.5" fill="#111111"/>
<circle cx="513.8" cy="1444.0" r="1.5" fill="#111111"/>
<circle cx="537.0" cy="1436.7" r="1.5" fill="#111111"/>
<circle cx="565.2" cy="1324.0" r="1.5" fill="#111111"/>
<circle cx="630.5" cy="1320.0" r="1.5" fill="#111111"/>
<circle cx="638.9" cy="1315.9" r="1.5" fill="#111111"/>
<circle cx="637.4" cy="1322.2" r="1.5" fill="#111111"/>
<circle cx="656.4" cy="1322.2" r="1.5" fill="#111111"/>
<circle cx="669.4" cy="1316.3" r="1.5" fill="#111111"/>
<circle cx="686.5" cy="1317.2" r="1.5" fill="#111111"/>
<circle cx="677.2" cy="1326.2" r="1.5" fill="#111111"/>
<circle cx="675.0" cy="1330.2" r="1.5" fill="#111111"/>
<circle cx="671.0" cy="1333.4" r="1.5" fill="#111111"/>
<circle cx="661.6" cy="1334.0" r="1.5" fill="#111111"/>
<circle cx="681.9" cy="1334.9" r="1.5" fill="#111111"/>
<circle cx="637.7" cy="1334.6" r="1.5" fill="#111111"/>
<circle cx="666.9" cy="1337.7" r="1.5" fill="#111111"/>
<circle cx="674.1" cy="1337.7" r="1.5" fill="#111111"/>
<circle cx="660.1" cy="1340.2" r="1.5" fill="#111111"/>
<circle cx="659.5" cy="1342.7" r="1.5" fill="#111111"/>
<circle cx="653.9" cy="1340.2" r="1.5" fill="#111111"/>
<circle cx="649.2" cy="1342.4" r="1.5" fill="#111111"/>
<circle cx="638.3" cy="1340.8" r="1.5" fill="#111111"/>
<circle cx="635.8" cy="1343.9" r="1.5" fill="#111111"/>
<circle cx="665.4" cy="1343.3" r="1.5" fill="#111111"/>
<circle cx="687.5" cy="1343.3" r="1.5" fill="#111111"/>
<circle cx="684.3" cy="1345.8" r="1.5" fill="#111111"/>
<circle cx="643.0" cy="1346.4" r="1.5" fill="#111111"/>
<circle cx="663.2" cy="1349.5" r="1.5" fill="#111111"/>
<circle cx="649.2" cy="1351.1" r="1.5" fill="#111111"/>
<circle cx="656.4" cy="1355.1" r="1.5" fill="#111111"/>
<circle cx="671.0" cy="1352.0" r="1.5" fill="#111111"/>
<circle cx="675.0" cy="1352.0" r="1.5" fill="#111111"/>
<circle cx="673.1" cy="1357.3" r="1.5" fill="#111111"/>
<circle cx="672.5" cy="1355.1" r="1.5" fill="#111111"/>
<circle cx="681.9" cy="1355.1" r="1.5" fill="#111111"/>
<circle cx="686.5" cy="1355.1" r="1.5" fill="#111111"/>
<circle cx="691.2" cy="1358.2" r="1.5" fill="#111111"/>
<circle cx="695.2" cy="1361.4" r="1.5" fill="#111111"/>
<circle cx="681.9" cy="1360.4" r="1.5" fill="#111111"/>
<circle cx="705.2" cy="1352.6" r="1.5" fill="#111111"/>
<circle cx="707.7" cy="1354.2" r="1.5" fill="#111111"/>
<circle cx="670.3" cy="1366.0" r="1.5" fill="#111111"/>
<circle cx="683.4" cy="1367.3" r="1.5" fill="#111111"/>
<circle cx="700.5" cy="1368.2" r="1.5" fill="#111111"/>
<circle cx="653.9" cy="1374.4" r="1.5" fill="#111111"/>
<circle cx="674.1" cy="1380.6" r="1.5" fill="#111111"/>
<circle cx="655.4" cy="1390.6" r="1.5" fill="#111111"/>
<circle cx="720.1" cy="1395.3" r="1.5" fill="#111111"/>
<circle cx="685.6" cy="1401.5" r="1.5" fill="#111111"/>
<circle cx="709.9" cy="1407.1" r="1.5" fill="#111111"/>
<circle cx="750.9" cy="1436.6" r="1.5" fill="#111111"/>
<circle cx="712.3" cy="1443.8" r="1.5" fill="#111111"/>
<line x1="136.5" y1="1148.1" x2="322.6" y2="1162.9" stroke="#4063ac" stroke-width="3.8" stroke-linecap="butt"/>
<text x="137.0" y="1223" font-size="15" fill="#1a1a1a" xml:space="preserve"><tspan font-style="italic">r</tspan> = −0.1, <tspan font-style="italic">p</tspan> = 0.44</text>
<line x1="136.5" y1="1357.8" x2="322.6" y2="1345.3" stroke="#4063ac" stroke-width="3.8" stroke-linecap="butt"/>
<text x="136.8" y="1422.3" font-size="15" fill="#1a1a1a" xml:space="preserve"><tspan font-style="italic">r</tspan> = 0.11, <tspan font-style="italic">p</tspan> = 0.39</text>
<line x1="350.9" y1="1126.1" x2="537" y2="1186.3" stroke="#4063ac" stroke-width="3.8" stroke-linecap="butt"/>
<text x="351.2" y="1223" font-size="15" fill="#1a1a1a" xml:space="preserve"><tspan font-style="italic">r</tspan> = −0.4, <tspan font-style="italic">p</tspan> = 0.0014</text>
<line x1="350.9" y1="1319.2" x2="537" y2="1388.1" stroke="#4063ac" stroke-width="3.8" stroke-linecap="butt"/>
<text x="351.2" y="1422.3" font-size="15" fill="#1a1a1a" xml:space="preserve"><tspan font-style="italic">r</tspan> = −0.65, <tspan font-style="italic">p</tspan> = 2.2e−08</text>
<line x1="565.2" y1="1126.4" x2="750.9" y2="1176.5" stroke="#4063ac" stroke-width="3.8" stroke-linecap="butt"/>
<text x="565.8" y="1223" font-size="15" fill="#1a1a1a" xml:space="preserve"><tspan font-style="italic">r</tspan> = −0.2, <tspan font-style="italic">p</tspan> = 0.12</text>
<line x1="565.2" y1="1289.8" x2="750.9" y2="1399.9" stroke="#4063ac" stroke-width="3.8" stroke-linecap="butt"/>
<text x="565.8" y="1422.3" font-size="15" fill="#1a1a1a" xml:space="preserve"><tspan font-style="italic">r</tspan> = −0.63, <tspan font-style="italic">p</tspan> = 8.6e−08</text>
</svg></body></html>
